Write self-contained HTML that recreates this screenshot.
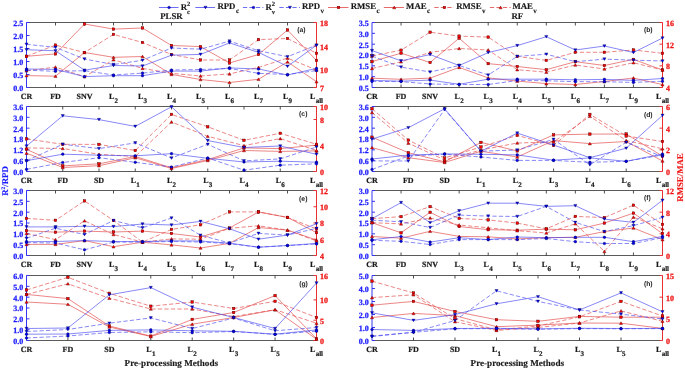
<!DOCTYPE html>
<html><head><meta charset="utf-8"><style>
html,body{margin:0;padding:0;background:#fff;}
svg{display:block;will-change:transform;}
text{font-family:"Liberation Serif", serif;font-weight:bold;text-rendering:geometricPrecision;}
.tl{font-size:8px;stroke-width:0.25px;}
.xl{font-size:8px;fill:#1a1a1a;stroke:#1a1a1a;stroke-width:0.2px;}
.tag{font-size:6.8px;fill:#222;font-family:"Liberation Sans",sans-serif;}
.lg{font-size:8.8px;fill:#1a1a1a;stroke:#1a1a1a;stroke-width:0.15px;}
.ttl{font-size:8.8px;fill:#1a1a1a;stroke:#1a1a1a;stroke-width:0.15px;}
.at{font-size:8.8px;fill:#1a1a1a;stroke:#1a1a1a;stroke-width:0.15px;}
.ppm{font-size:9.1px;}
</style></head><body>
<svg width="685" height="369" viewBox="0 0 685 369">
<line x1="26.5" y1="22.5" x2="316.5" y2="22.5" stroke="#5a5a5a" stroke-width="1.1"/>
<line x1="26.5" y1="87.5" x2="316.5" y2="87.5" stroke="#5a5a5a" stroke-width="1.1"/>
<line x1="55.50" y1="87.5" x2="55.50" y2="84.5" stroke="#3c3c3c" stroke-width="0.9"/>
<line x1="55.50" y1="22.5" x2="55.50" y2="25.5" stroke="#3c3c3c" stroke-width="0.9"/>
<line x1="84.50" y1="87.5" x2="84.50" y2="84.5" stroke="#3c3c3c" stroke-width="0.9"/>
<line x1="84.50" y1="22.5" x2="84.50" y2="25.5" stroke="#3c3c3c" stroke-width="0.9"/>
<line x1="113.50" y1="87.5" x2="113.50" y2="84.5" stroke="#3c3c3c" stroke-width="0.9"/>
<line x1="113.50" y1="22.5" x2="113.50" y2="25.5" stroke="#3c3c3c" stroke-width="0.9"/>
<line x1="142.50" y1="87.5" x2="142.50" y2="84.5" stroke="#3c3c3c" stroke-width="0.9"/>
<line x1="142.50" y1="22.5" x2="142.50" y2="25.5" stroke="#3c3c3c" stroke-width="0.9"/>
<line x1="171.50" y1="87.5" x2="171.50" y2="84.5" stroke="#3c3c3c" stroke-width="0.9"/>
<line x1="171.50" y1="22.5" x2="171.50" y2="25.5" stroke="#3c3c3c" stroke-width="0.9"/>
<line x1="200.50" y1="87.5" x2="200.50" y2="84.5" stroke="#3c3c3c" stroke-width="0.9"/>
<line x1="200.50" y1="22.5" x2="200.50" y2="25.5" stroke="#3c3c3c" stroke-width="0.9"/>
<line x1="229.50" y1="87.5" x2="229.50" y2="84.5" stroke="#3c3c3c" stroke-width="0.9"/>
<line x1="229.50" y1="22.5" x2="229.50" y2="25.5" stroke="#3c3c3c" stroke-width="0.9"/>
<line x1="258.50" y1="87.5" x2="258.50" y2="84.5" stroke="#3c3c3c" stroke-width="0.9"/>
<line x1="258.50" y1="22.5" x2="258.50" y2="25.5" stroke="#3c3c3c" stroke-width="0.9"/>
<line x1="287.50" y1="87.5" x2="287.50" y2="84.5" stroke="#3c3c3c" stroke-width="0.9"/>
<line x1="287.50" y1="22.5" x2="287.50" y2="25.5" stroke="#3c3c3c" stroke-width="0.9"/>
<line x1="26.5" y1="22.5" x2="26.5" y2="87.5" stroke="#3535f0" stroke-width="1"/>
<line x1="26.5" y1="87.50" x2="29.5" y2="87.50" stroke="#3535f0" stroke-width="1"/>
<text x="23.3" y="90.90" text-anchor="end" class="tl" fill="#1a1aff" stroke="#1a1aff">0.0</text>
<line x1="26.5" y1="74.50" x2="29.5" y2="74.50" stroke="#3535f0" stroke-width="1"/>
<text x="23.3" y="77.90" text-anchor="end" class="tl" fill="#1a1aff" stroke="#1a1aff">0.5</text>
<line x1="26.5" y1="61.50" x2="29.5" y2="61.50" stroke="#3535f0" stroke-width="1"/>
<text x="23.3" y="64.90" text-anchor="end" class="tl" fill="#1a1aff" stroke="#1a1aff">1.0</text>
<line x1="26.5" y1="48.50" x2="29.5" y2="48.50" stroke="#3535f0" stroke-width="1"/>
<text x="23.3" y="51.90" text-anchor="end" class="tl" fill="#1a1aff" stroke="#1a1aff">1.5</text>
<line x1="26.5" y1="35.50" x2="29.5" y2="35.50" stroke="#3535f0" stroke-width="1"/>
<text x="23.3" y="38.90" text-anchor="end" class="tl" fill="#1a1aff" stroke="#1a1aff">2.0</text>
<line x1="26.5" y1="22.50" x2="29.5" y2="22.50" stroke="#3535f0" stroke-width="1"/>
<text x="23.3" y="25.90" text-anchor="end" class="tl" fill="#1a1aff" stroke="#1a1aff">2.5</text>
<line x1="316.5" y1="22.5" x2="316.5" y2="87.5" stroke="#e83030" stroke-width="1"/>
<line x1="316.5" y1="87.50" x2="313.5" y2="87.50" stroke="#e83030" stroke-width="1"/>
<text x="320.1" y="90.90" class="tl" fill="#ee1111" stroke="#ee1111">7</text>
<line x1="316.5" y1="69.77" x2="313.5" y2="69.77" stroke="#e83030" stroke-width="1"/>
<text x="320.1" y="73.17" class="tl" fill="#ee1111" stroke="#ee1111">10</text>
<line x1="316.5" y1="46.14" x2="313.5" y2="46.14" stroke="#e83030" stroke-width="1"/>
<text x="320.1" y="49.54" class="tl" fill="#ee1111" stroke="#ee1111">14</text>
<line x1="316.5" y1="22.50" x2="313.5" y2="22.50" stroke="#e83030" stroke-width="1"/>
<text x="320.1" y="25.90" class="tl" fill="#ee1111" stroke="#ee1111">18</text>
<text x="26.50" y="99.30" text-anchor="middle" class="xl">CR</text>
<text x="55.50" y="99.30" text-anchor="middle" class="xl">FD</text>
<text x="84.50" y="99.30" text-anchor="middle" class="xl">SNV</text>
<text x="113.50" y="99.30" text-anchor="middle" class="xl">L<tspan font-size="7" dx="0.4" dy="3.2">2</tspan></text>
<text x="142.50" y="99.30" text-anchor="middle" class="xl">L<tspan font-size="7" dx="0.4" dy="3.2">3</tspan></text>
<text x="171.50" y="99.30" text-anchor="middle" class="xl">L<tspan font-size="7" dx="0.4" dy="3.2">4</tspan></text>
<text x="200.50" y="99.30" text-anchor="middle" class="xl">L<tspan font-size="7" dx="0.4" dy="3.2">5</tspan></text>
<text x="229.50" y="99.30" text-anchor="middle" class="xl">L<tspan font-size="7" dx="0.4" dy="3.2">6</tspan></text>
<text x="258.50" y="99.30" text-anchor="middle" class="xl">L<tspan font-size="7" dx="0.4" dy="3.2">7</tspan></text>
<text x="287.50" y="99.30" text-anchor="middle" class="xl">L<tspan font-size="7" dx="0.4" dy="3.2">9</tspan></text>
<text x="316.50" y="99.30" text-anchor="middle" class="xl">L<tspan font-size="7" dx="0.4" dy="3.2">all</tspan></text>
<text x="301.40" y="32.30" text-anchor="middle" class="tag">(a)</text>
<polyline points="26.50,56.30 55.50,53.90 84.50,24.00 113.50,29.10 142.50,28.00 171.50,45.50 200.50,46.60 229.50,63.00 258.50,54.50 287.50,30.00 316.50,60.50" fill="none" stroke="#e03a3a" stroke-width="0.62"/>
<polyline points="26.50,75.60 55.50,76.20 84.50,52.50 113.50,57.30 142.50,56.50 171.50,74.40 200.50,79.50 229.50,82.50 258.50,79.30 287.50,61.90 316.50,81.70" fill="none" stroke="#e03a3a" stroke-width="0.62"/>
<polyline points="26.50,56.30 55.50,45.10 84.50,52.50 113.50,34.40 142.50,42.50 171.50,54.50 200.50,60.00 229.50,60.00 258.50,39.60 287.50,38.50 316.50,53.30" fill="none" stroke="#e03a3a" stroke-width="0.62" stroke-dasharray="4.3,2.2"/>
<polyline points="26.50,70.80 55.50,67.10 84.50,76.70 113.50,59.80 142.50,68.40 171.50,73.30 200.50,76.00 229.50,73.90 258.50,67.40 287.50,58.10 316.50,70.00" fill="none" stroke="#e03a3a" stroke-width="0.62" stroke-dasharray="4.3,2.2"/>
<polyline points="26.50,69.00 55.50,69.40 84.50,76.60 113.50,75.70 142.50,75.70 171.50,71.10 200.50,71.10 229.50,67.90 258.50,69.00 287.50,75.00 316.50,68.40" fill="none" stroke="#3d3df2" stroke-width="0.62"/>
<polyline points="26.50,49.70 55.50,50.80 84.50,70.20 113.50,65.50 142.50,66.00 171.50,55.20 200.50,54.40 229.50,42.90 258.50,52.40 287.50,66.30 316.50,45.20" fill="none" stroke="#3d3df2" stroke-width="0.62"/>
<polyline points="26.50,70.20 55.50,71.30 84.50,70.70 113.50,75.00 142.50,73.10 171.50,70.00 200.50,69.50 229.50,68.50 258.50,73.30 287.50,74.50 316.50,70.60" fill="none" stroke="#3d3df2" stroke-width="0.62" stroke-dasharray="4.3,2.2"/>
<polyline points="26.50,44.30 55.50,47.40 84.50,59.00 113.50,64.50 142.50,60.30 171.50,48.00 200.50,49.20 229.50,41.10 258.50,50.70 287.50,56.70 316.50,45.20" fill="none" stroke="#3d3df2" stroke-width="0.62" stroke-dasharray="4.3,2.2"/>
<rect x="25.25" y="55.05" width="2.5" height="2.5" fill="#ff0000" stroke="#500000" stroke-width="0.45"/>
<rect x="54.25" y="52.65" width="2.5" height="2.5" fill="#ff0000" stroke="#500000" stroke-width="0.45"/>
<rect x="83.25" y="22.75" width="2.5" height="2.5" fill="#ff0000" stroke="#500000" stroke-width="0.45"/>
<rect x="112.25" y="27.85" width="2.5" height="2.5" fill="#ff0000" stroke="#500000" stroke-width="0.45"/>
<rect x="141.25" y="26.75" width="2.5" height="2.5" fill="#ff0000" stroke="#500000" stroke-width="0.45"/>
<rect x="170.25" y="44.25" width="2.5" height="2.5" fill="#ff0000" stroke="#500000" stroke-width="0.45"/>
<rect x="199.25" y="45.35" width="2.5" height="2.5" fill="#ff0000" stroke="#500000" stroke-width="0.45"/>
<rect x="228.25" y="61.75" width="2.5" height="2.5" fill="#ff0000" stroke="#500000" stroke-width="0.45"/>
<rect x="257.25" y="53.25" width="2.5" height="2.5" fill="#ff0000" stroke="#500000" stroke-width="0.45"/>
<rect x="286.25" y="28.75" width="2.5" height="2.5" fill="#ff0000" stroke="#500000" stroke-width="0.45"/>
<rect x="315.25" y="59.25" width="2.5" height="2.5" fill="#ff0000" stroke="#500000" stroke-width="0.45"/>
<path d="M24.90,76.90h3.2l-1.6,-2.7z" fill="#ff0000" stroke="#500000" stroke-width="0.4"/>
<path d="M53.90,77.50h3.2l-1.6,-2.7z" fill="#ff0000" stroke="#500000" stroke-width="0.4"/>
<path d="M82.90,53.80h3.2l-1.6,-2.7z" fill="#ff0000" stroke="#500000" stroke-width="0.4"/>
<path d="M111.90,58.60h3.2l-1.6,-2.7z" fill="#ff0000" stroke="#500000" stroke-width="0.4"/>
<path d="M140.90,57.80h3.2l-1.6,-2.7z" fill="#ff0000" stroke="#500000" stroke-width="0.4"/>
<path d="M169.90,75.70h3.2l-1.6,-2.7z" fill="#ff0000" stroke="#500000" stroke-width="0.4"/>
<path d="M198.90,80.80h3.2l-1.6,-2.7z" fill="#ff0000" stroke="#500000" stroke-width="0.4"/>
<path d="M227.90,83.80h3.2l-1.6,-2.7z" fill="#ff0000" stroke="#500000" stroke-width="0.4"/>
<path d="M256.90,80.60h3.2l-1.6,-2.7z" fill="#ff0000" stroke="#500000" stroke-width="0.4"/>
<path d="M285.90,63.20h3.2l-1.6,-2.7z" fill="#ff0000" stroke="#500000" stroke-width="0.4"/>
<path d="M314.90,83.00h3.2l-1.6,-2.7z" fill="#ff0000" stroke="#500000" stroke-width="0.4"/>
<rect x="25.25" y="55.05" width="2.5" height="2.5" fill="#ff0000" stroke="#500000" stroke-width="0.45"/>
<rect x="54.25" y="43.85" width="2.5" height="2.5" fill="#ff0000" stroke="#500000" stroke-width="0.45"/>
<rect x="83.25" y="51.25" width="2.5" height="2.5" fill="#ff0000" stroke="#500000" stroke-width="0.45"/>
<rect x="112.25" y="33.15" width="2.5" height="2.5" fill="#ff0000" stroke="#500000" stroke-width="0.45"/>
<rect x="141.25" y="41.25" width="2.5" height="2.5" fill="#ff0000" stroke="#500000" stroke-width="0.45"/>
<rect x="170.25" y="53.25" width="2.5" height="2.5" fill="#ff0000" stroke="#500000" stroke-width="0.45"/>
<rect x="199.25" y="58.75" width="2.5" height="2.5" fill="#ff0000" stroke="#500000" stroke-width="0.45"/>
<rect x="228.25" y="58.75" width="2.5" height="2.5" fill="#ff0000" stroke="#500000" stroke-width="0.45"/>
<rect x="257.25" y="38.35" width="2.5" height="2.5" fill="#ff0000" stroke="#500000" stroke-width="0.45"/>
<rect x="286.25" y="37.25" width="2.5" height="2.5" fill="#ff0000" stroke="#500000" stroke-width="0.45"/>
<rect x="315.25" y="52.05" width="2.5" height="2.5" fill="#ff0000" stroke="#500000" stroke-width="0.45"/>
<path d="M24.90,72.10h3.2l-1.6,-2.7z" fill="#ff0000" stroke="#500000" stroke-width="0.4"/>
<path d="M53.90,68.40h3.2l-1.6,-2.7z" fill="#ff0000" stroke="#500000" stroke-width="0.4"/>
<path d="M82.90,78.00h3.2l-1.6,-2.7z" fill="#ff0000" stroke="#500000" stroke-width="0.4"/>
<path d="M111.90,61.10h3.2l-1.6,-2.7z" fill="#ff0000" stroke="#500000" stroke-width="0.4"/>
<path d="M140.90,69.70h3.2l-1.6,-2.7z" fill="#ff0000" stroke="#500000" stroke-width="0.4"/>
<path d="M169.90,74.60h3.2l-1.6,-2.7z" fill="#ff0000" stroke="#500000" stroke-width="0.4"/>
<path d="M198.90,77.30h3.2l-1.6,-2.7z" fill="#ff0000" stroke="#500000" stroke-width="0.4"/>
<path d="M227.90,75.20h3.2l-1.6,-2.7z" fill="#ff0000" stroke="#500000" stroke-width="0.4"/>
<path d="M256.90,68.70h3.2l-1.6,-2.7z" fill="#ff0000" stroke="#500000" stroke-width="0.4"/>
<path d="M285.90,59.40h3.2l-1.6,-2.7z" fill="#ff0000" stroke="#500000" stroke-width="0.4"/>
<path d="M314.90,71.30h3.2l-1.6,-2.7z" fill="#ff0000" stroke="#500000" stroke-width="0.4"/>
<circle cx="26.50" cy="69.00" r="1.35" fill="#0000ee" stroke="#000040" stroke-width="0.35"/>
<circle cx="55.50" cy="69.40" r="1.35" fill="#0000ee" stroke="#000040" stroke-width="0.35"/>
<circle cx="84.50" cy="76.60" r="1.35" fill="#0000ee" stroke="#000040" stroke-width="0.35"/>
<circle cx="113.50" cy="75.70" r="1.35" fill="#0000ee" stroke="#000040" stroke-width="0.35"/>
<circle cx="142.50" cy="75.70" r="1.35" fill="#0000ee" stroke="#000040" stroke-width="0.35"/>
<circle cx="171.50" cy="71.10" r="1.35" fill="#0000ee" stroke="#000040" stroke-width="0.35"/>
<circle cx="200.50" cy="71.10" r="1.35" fill="#0000ee" stroke="#000040" stroke-width="0.35"/>
<circle cx="229.50" cy="67.90" r="1.35" fill="#0000ee" stroke="#000040" stroke-width="0.35"/>
<circle cx="258.50" cy="69.00" r="1.35" fill="#0000ee" stroke="#000040" stroke-width="0.35"/>
<circle cx="287.50" cy="75.00" r="1.35" fill="#0000ee" stroke="#000040" stroke-width="0.35"/>
<circle cx="316.50" cy="68.40" r="1.35" fill="#0000ee" stroke="#000040" stroke-width="0.35"/>
<path d="M24.90,48.40h3.2l-1.6,2.7z" fill="#0000ee" stroke="#000040" stroke-width="0.35"/>
<path d="M53.90,49.50h3.2l-1.6,2.7z" fill="#0000ee" stroke="#000040" stroke-width="0.35"/>
<path d="M82.90,68.90h3.2l-1.6,2.7z" fill="#0000ee" stroke="#000040" stroke-width="0.35"/>
<path d="M111.90,64.20h3.2l-1.6,2.7z" fill="#0000ee" stroke="#000040" stroke-width="0.35"/>
<path d="M140.90,64.70h3.2l-1.6,2.7z" fill="#0000ee" stroke="#000040" stroke-width="0.35"/>
<path d="M169.90,53.90h3.2l-1.6,2.7z" fill="#0000ee" stroke="#000040" stroke-width="0.35"/>
<path d="M198.90,53.10h3.2l-1.6,2.7z" fill="#0000ee" stroke="#000040" stroke-width="0.35"/>
<path d="M227.90,41.60h3.2l-1.6,2.7z" fill="#0000ee" stroke="#000040" stroke-width="0.35"/>
<path d="M256.90,51.10h3.2l-1.6,2.7z" fill="#0000ee" stroke="#000040" stroke-width="0.35"/>
<path d="M285.90,65.00h3.2l-1.6,2.7z" fill="#0000ee" stroke="#000040" stroke-width="0.35"/>
<path d="M314.90,43.90h3.2l-1.6,2.7z" fill="#0000ee" stroke="#000040" stroke-width="0.35"/>
<circle cx="26.50" cy="70.20" r="1.35" fill="#0000ee" stroke="#000040" stroke-width="0.35"/>
<circle cx="55.50" cy="71.30" r="1.35" fill="#0000ee" stroke="#000040" stroke-width="0.35"/>
<circle cx="84.50" cy="70.70" r="1.35" fill="#0000ee" stroke="#000040" stroke-width="0.35"/>
<circle cx="113.50" cy="75.00" r="1.35" fill="#0000ee" stroke="#000040" stroke-width="0.35"/>
<circle cx="142.50" cy="73.10" r="1.35" fill="#0000ee" stroke="#000040" stroke-width="0.35"/>
<circle cx="171.50" cy="70.00" r="1.35" fill="#0000ee" stroke="#000040" stroke-width="0.35"/>
<circle cx="200.50" cy="69.50" r="1.35" fill="#0000ee" stroke="#000040" stroke-width="0.35"/>
<circle cx="229.50" cy="68.50" r="1.35" fill="#0000ee" stroke="#000040" stroke-width="0.35"/>
<circle cx="258.50" cy="73.30" r="1.35" fill="#0000ee" stroke="#000040" stroke-width="0.35"/>
<circle cx="287.50" cy="74.50" r="1.35" fill="#0000ee" stroke="#000040" stroke-width="0.35"/>
<circle cx="316.50" cy="70.60" r="1.35" fill="#0000ee" stroke="#000040" stroke-width="0.35"/>
<path d="M24.90,43.00h3.2l-1.6,2.7z" fill="#0000ee" stroke="#000040" stroke-width="0.35"/>
<path d="M53.90,46.10h3.2l-1.6,2.7z" fill="#0000ee" stroke="#000040" stroke-width="0.35"/>
<path d="M82.90,57.70h3.2l-1.6,2.7z" fill="#0000ee" stroke="#000040" stroke-width="0.35"/>
<path d="M111.90,63.20h3.2l-1.6,2.7z" fill="#0000ee" stroke="#000040" stroke-width="0.35"/>
<path d="M140.90,59.00h3.2l-1.6,2.7z" fill="#0000ee" stroke="#000040" stroke-width="0.35"/>
<path d="M169.90,46.70h3.2l-1.6,2.7z" fill="#0000ee" stroke="#000040" stroke-width="0.35"/>
<path d="M198.90,47.90h3.2l-1.6,2.7z" fill="#0000ee" stroke="#000040" stroke-width="0.35"/>
<path d="M227.90,39.80h3.2l-1.6,2.7z" fill="#0000ee" stroke="#000040" stroke-width="0.35"/>
<path d="M256.90,49.40h3.2l-1.6,2.7z" fill="#0000ee" stroke="#000040" stroke-width="0.35"/>
<path d="M285.90,55.40h3.2l-1.6,2.7z" fill="#0000ee" stroke="#000040" stroke-width="0.35"/>
<path d="M314.90,43.90h3.2l-1.6,2.7z" fill="#0000ee" stroke="#000040" stroke-width="0.35"/>
<line x1="372.0" y1="22.5" x2="662.5" y2="22.5" stroke="#5a5a5a" stroke-width="1.1"/>
<line x1="372.0" y1="87.5" x2="662.5" y2="87.5" stroke="#5a5a5a" stroke-width="1.1"/>
<line x1="401.05" y1="87.5" x2="401.05" y2="84.5" stroke="#3c3c3c" stroke-width="0.9"/>
<line x1="401.05" y1="22.5" x2="401.05" y2="25.5" stroke="#3c3c3c" stroke-width="0.9"/>
<line x1="430.10" y1="87.5" x2="430.10" y2="84.5" stroke="#3c3c3c" stroke-width="0.9"/>
<line x1="430.10" y1="22.5" x2="430.10" y2="25.5" stroke="#3c3c3c" stroke-width="0.9"/>
<line x1="459.15" y1="87.5" x2="459.15" y2="84.5" stroke="#3c3c3c" stroke-width="0.9"/>
<line x1="459.15" y1="22.5" x2="459.15" y2="25.5" stroke="#3c3c3c" stroke-width="0.9"/>
<line x1="488.20" y1="87.5" x2="488.20" y2="84.5" stroke="#3c3c3c" stroke-width="0.9"/>
<line x1="488.20" y1="22.5" x2="488.20" y2="25.5" stroke="#3c3c3c" stroke-width="0.9"/>
<line x1="517.25" y1="87.5" x2="517.25" y2="84.5" stroke="#3c3c3c" stroke-width="0.9"/>
<line x1="517.25" y1="22.5" x2="517.25" y2="25.5" stroke="#3c3c3c" stroke-width="0.9"/>
<line x1="546.30" y1="87.5" x2="546.30" y2="84.5" stroke="#3c3c3c" stroke-width="0.9"/>
<line x1="546.30" y1="22.5" x2="546.30" y2="25.5" stroke="#3c3c3c" stroke-width="0.9"/>
<line x1="575.35" y1="87.5" x2="575.35" y2="84.5" stroke="#3c3c3c" stroke-width="0.9"/>
<line x1="575.35" y1="22.5" x2="575.35" y2="25.5" stroke="#3c3c3c" stroke-width="0.9"/>
<line x1="604.40" y1="87.5" x2="604.40" y2="84.5" stroke="#3c3c3c" stroke-width="0.9"/>
<line x1="604.40" y1="22.5" x2="604.40" y2="25.5" stroke="#3c3c3c" stroke-width="0.9"/>
<line x1="633.45" y1="87.5" x2="633.45" y2="84.5" stroke="#3c3c3c" stroke-width="0.9"/>
<line x1="633.45" y1="22.5" x2="633.45" y2="25.5" stroke="#3c3c3c" stroke-width="0.9"/>
<line x1="372.0" y1="22.5" x2="372.0" y2="87.5" stroke="#3535f0" stroke-width="1"/>
<line x1="372.0" y1="87.50" x2="375.0" y2="87.50" stroke="#3535f0" stroke-width="1"/>
<text x="368.8" y="90.90" text-anchor="end" class="tl" fill="#1a1aff" stroke="#1a1aff">0.5</text>
<line x1="372.0" y1="76.67" x2="375.0" y2="76.67" stroke="#3535f0" stroke-width="1"/>
<text x="368.8" y="80.07" text-anchor="end" class="tl" fill="#1a1aff" stroke="#1a1aff">1.0</text>
<line x1="372.0" y1="65.83" x2="375.0" y2="65.83" stroke="#3535f0" stroke-width="1"/>
<text x="368.8" y="69.23" text-anchor="end" class="tl" fill="#1a1aff" stroke="#1a1aff">1.5</text>
<line x1="372.0" y1="55.00" x2="375.0" y2="55.00" stroke="#3535f0" stroke-width="1"/>
<text x="368.8" y="58.40" text-anchor="end" class="tl" fill="#1a1aff" stroke="#1a1aff">2.0</text>
<line x1="372.0" y1="44.17" x2="375.0" y2="44.17" stroke="#3535f0" stroke-width="1"/>
<text x="368.8" y="47.57" text-anchor="end" class="tl" fill="#1a1aff" stroke="#1a1aff">2.5</text>
<line x1="372.0" y1="33.33" x2="375.0" y2="33.33" stroke="#3535f0" stroke-width="1"/>
<text x="368.8" y="36.73" text-anchor="end" class="tl" fill="#1a1aff" stroke="#1a1aff">3.0</text>
<line x1="372.0" y1="22.50" x2="375.0" y2="22.50" stroke="#3535f0" stroke-width="1"/>
<text x="368.8" y="25.90" text-anchor="end" class="tl" fill="#1a1aff" stroke="#1a1aff">3.5</text>
<line x1="662.5" y1="22.5" x2="662.5" y2="87.5" stroke="#e83030" stroke-width="1"/>
<line x1="662.5" y1="87.50" x2="659.5" y2="87.50" stroke="#e83030" stroke-width="1"/>
<text x="666.1" y="90.90" class="tl" fill="#ee1111" stroke="#ee1111">4</text>
<line x1="662.5" y1="65.83" x2="659.5" y2="65.83" stroke="#e83030" stroke-width="1"/>
<text x="666.1" y="69.23" class="tl" fill="#ee1111" stroke="#ee1111">8</text>
<line x1="662.5" y1="44.17" x2="659.5" y2="44.17" stroke="#e83030" stroke-width="1"/>
<text x="666.1" y="47.57" class="tl" fill="#ee1111" stroke="#ee1111">12</text>
<line x1="662.5" y1="22.50" x2="659.5" y2="22.50" stroke="#e83030" stroke-width="1"/>
<text x="666.1" y="25.90" class="tl" fill="#ee1111" stroke="#ee1111">16</text>
<text x="372.00" y="99.30" text-anchor="middle" class="xl">CR</text>
<text x="401.05" y="99.30" text-anchor="middle" class="xl">FD</text>
<text x="430.10" y="99.30" text-anchor="middle" class="xl">SNV</text>
<text x="459.15" y="99.30" text-anchor="middle" class="xl">L<tspan font-size="7" dx="0.4" dy="3.2">2</tspan></text>
<text x="488.20" y="99.30" text-anchor="middle" class="xl">L<tspan font-size="7" dx="0.4" dy="3.2">3</tspan></text>
<text x="517.25" y="99.30" text-anchor="middle" class="xl">L<tspan font-size="7" dx="0.4" dy="3.2">4</tspan></text>
<text x="546.30" y="99.30" text-anchor="middle" class="xl">L<tspan font-size="7" dx="0.4" dy="3.2">5</tspan></text>
<text x="575.35" y="99.30" text-anchor="middle" class="xl">L<tspan font-size="7" dx="0.4" dy="3.2">6</tspan></text>
<text x="604.40" y="99.30" text-anchor="middle" class="xl">L<tspan font-size="7" dx="0.4" dy="3.2">7</tspan></text>
<text x="633.45" y="99.30" text-anchor="middle" class="xl">L<tspan font-size="7" dx="0.4" dy="3.2">9</tspan></text>
<text x="662.50" y="99.30" text-anchor="middle" class="xl">L<tspan font-size="7" dx="0.4" dy="3.2">all</tspan></text>
<text x="648.25" y="32.40" text-anchor="middle" class="tag">(b)</text>
<polyline points="372.00,61.60 401.05,53.20 430.10,62.50 459.15,38.20 488.20,63.60 517.25,66.50 546.30,69.70 575.35,61.70 604.40,65.50 633.45,59.40 662.50,70.00" fill="none" stroke="#e03a3a" stroke-width="0.62"/>
<polyline points="372.00,78.20 401.05,79.30 430.10,78.10 459.15,67.40 488.20,77.90 517.25,81.10 546.30,83.60 575.35,84.50 604.40,81.50 633.45,78.00 662.50,84.60" fill="none" stroke="#e03a3a" stroke-width="0.62"/>
<polyline points="372.00,56.00 401.05,50.20 430.10,32.20 459.15,36.10 488.20,37.10 517.25,56.40 546.30,60.40 575.35,52.30 604.40,52.30 633.45,50.00 662.50,53.30" fill="none" stroke="#e03a3a" stroke-width="0.62" stroke-dasharray="4.3,2.2"/>
<polyline points="372.00,68.50 401.05,61.80 430.10,52.40 459.15,48.50 488.20,50.00 517.25,69.70 546.30,72.20 575.35,65.00 604.40,69.00 633.45,62.70 662.50,70.00" fill="none" stroke="#e03a3a" stroke-width="0.62" stroke-dasharray="4.3,2.2"/>
<polyline points="372.00,80.40 401.05,81.20 430.10,80.10 459.15,84.30 488.20,79.20 517.25,79.20 546.30,79.20 575.35,79.80 604.40,79.40 633.45,80.40 662.50,78.50" fill="none" stroke="#3d3df2" stroke-width="0.62"/>
<polyline points="372.00,50.60 401.05,60.80 430.10,54.60 459.15,65.50 488.20,52.60 517.25,45.60 546.30,36.70 575.35,50.00 604.40,46.00 633.45,52.50 662.50,38.00" fill="none" stroke="#3d3df2" stroke-width="0.62"/>
<polyline points="372.00,81.40 401.05,81.60 430.10,84.00 459.15,84.50 488.20,84.50 517.25,80.50 546.30,80.70 575.35,81.70 604.40,81.70 633.45,82.40 662.50,81.30" fill="none" stroke="#3d3df2" stroke-width="0.62" stroke-dasharray="4.3,2.2"/>
<polyline points="372.00,56.00 401.05,67.10 430.10,72.00 459.15,65.50 488.20,75.00 517.25,56.40 546.30,54.20 575.35,61.70 604.40,59.10 633.45,60.20 662.50,61.00" fill="none" stroke="#3d3df2" stroke-width="0.62" stroke-dasharray="4.3,2.2"/>
<rect x="370.75" y="60.35" width="2.5" height="2.5" fill="#ff0000" stroke="#500000" stroke-width="0.45"/>
<rect x="399.80" y="51.95" width="2.5" height="2.5" fill="#ff0000" stroke="#500000" stroke-width="0.45"/>
<rect x="428.85" y="61.25" width="2.5" height="2.5" fill="#ff0000" stroke="#500000" stroke-width="0.45"/>
<rect x="457.90" y="36.95" width="2.5" height="2.5" fill="#ff0000" stroke="#500000" stroke-width="0.45"/>
<rect x="486.95" y="62.35" width="2.5" height="2.5" fill="#ff0000" stroke="#500000" stroke-width="0.45"/>
<rect x="516.00" y="65.25" width="2.5" height="2.5" fill="#ff0000" stroke="#500000" stroke-width="0.45"/>
<rect x="545.05" y="68.45" width="2.5" height="2.5" fill="#ff0000" stroke="#500000" stroke-width="0.45"/>
<rect x="574.10" y="60.45" width="2.5" height="2.5" fill="#ff0000" stroke="#500000" stroke-width="0.45"/>
<rect x="603.15" y="64.25" width="2.5" height="2.5" fill="#ff0000" stroke="#500000" stroke-width="0.45"/>
<rect x="632.20" y="58.15" width="2.5" height="2.5" fill="#ff0000" stroke="#500000" stroke-width="0.45"/>
<rect x="661.25" y="68.75" width="2.5" height="2.5" fill="#ff0000" stroke="#500000" stroke-width="0.45"/>
<path d="M370.40,79.50h3.2l-1.6,-2.7z" fill="#ff0000" stroke="#500000" stroke-width="0.4"/>
<path d="M399.45,80.60h3.2l-1.6,-2.7z" fill="#ff0000" stroke="#500000" stroke-width="0.4"/>
<path d="M428.50,79.40h3.2l-1.6,-2.7z" fill="#ff0000" stroke="#500000" stroke-width="0.4"/>
<path d="M457.55,68.70h3.2l-1.6,-2.7z" fill="#ff0000" stroke="#500000" stroke-width="0.4"/>
<path d="M486.60,79.20h3.2l-1.6,-2.7z" fill="#ff0000" stroke="#500000" stroke-width="0.4"/>
<path d="M515.65,82.40h3.2l-1.6,-2.7z" fill="#ff0000" stroke="#500000" stroke-width="0.4"/>
<path d="M544.70,84.90h3.2l-1.6,-2.7z" fill="#ff0000" stroke="#500000" stroke-width="0.4"/>
<path d="M573.75,85.80h3.2l-1.6,-2.7z" fill="#ff0000" stroke="#500000" stroke-width="0.4"/>
<path d="M602.80,82.80h3.2l-1.6,-2.7z" fill="#ff0000" stroke="#500000" stroke-width="0.4"/>
<path d="M631.85,79.30h3.2l-1.6,-2.7z" fill="#ff0000" stroke="#500000" stroke-width="0.4"/>
<path d="M660.90,85.90h3.2l-1.6,-2.7z" fill="#ff0000" stroke="#500000" stroke-width="0.4"/>
<rect x="370.75" y="54.75" width="2.5" height="2.5" fill="#ff0000" stroke="#500000" stroke-width="0.45"/>
<rect x="399.80" y="48.95" width="2.5" height="2.5" fill="#ff0000" stroke="#500000" stroke-width="0.45"/>
<rect x="428.85" y="30.95" width="2.5" height="2.5" fill="#ff0000" stroke="#500000" stroke-width="0.45"/>
<rect x="457.90" y="34.85" width="2.5" height="2.5" fill="#ff0000" stroke="#500000" stroke-width="0.45"/>
<rect x="486.95" y="35.85" width="2.5" height="2.5" fill="#ff0000" stroke="#500000" stroke-width="0.45"/>
<rect x="516.00" y="55.15" width="2.5" height="2.5" fill="#ff0000" stroke="#500000" stroke-width="0.45"/>
<rect x="545.05" y="59.15" width="2.5" height="2.5" fill="#ff0000" stroke="#500000" stroke-width="0.45"/>
<rect x="574.10" y="51.05" width="2.5" height="2.5" fill="#ff0000" stroke="#500000" stroke-width="0.45"/>
<rect x="603.15" y="51.05" width="2.5" height="2.5" fill="#ff0000" stroke="#500000" stroke-width="0.45"/>
<rect x="632.20" y="48.75" width="2.5" height="2.5" fill="#ff0000" stroke="#500000" stroke-width="0.45"/>
<rect x="661.25" y="52.05" width="2.5" height="2.5" fill="#ff0000" stroke="#500000" stroke-width="0.45"/>
<path d="M370.40,69.80h3.2l-1.6,-2.7z" fill="#ff0000" stroke="#500000" stroke-width="0.4"/>
<path d="M399.45,63.10h3.2l-1.6,-2.7z" fill="#ff0000" stroke="#500000" stroke-width="0.4"/>
<path d="M428.50,53.70h3.2l-1.6,-2.7z" fill="#ff0000" stroke="#500000" stroke-width="0.4"/>
<path d="M457.55,49.80h3.2l-1.6,-2.7z" fill="#ff0000" stroke="#500000" stroke-width="0.4"/>
<path d="M486.60,51.30h3.2l-1.6,-2.7z" fill="#ff0000" stroke="#500000" stroke-width="0.4"/>
<path d="M515.65,71.00h3.2l-1.6,-2.7z" fill="#ff0000" stroke="#500000" stroke-width="0.4"/>
<path d="M544.70,73.50h3.2l-1.6,-2.7z" fill="#ff0000" stroke="#500000" stroke-width="0.4"/>
<path d="M573.75,66.30h3.2l-1.6,-2.7z" fill="#ff0000" stroke="#500000" stroke-width="0.4"/>
<path d="M602.80,70.30h3.2l-1.6,-2.7z" fill="#ff0000" stroke="#500000" stroke-width="0.4"/>
<path d="M631.85,64.00h3.2l-1.6,-2.7z" fill="#ff0000" stroke="#500000" stroke-width="0.4"/>
<path d="M660.90,71.30h3.2l-1.6,-2.7z" fill="#ff0000" stroke="#500000" stroke-width="0.4"/>
<circle cx="372.00" cy="80.40" r="1.35" fill="#0000ee" stroke="#000040" stroke-width="0.35"/>
<circle cx="401.05" cy="81.20" r="1.35" fill="#0000ee" stroke="#000040" stroke-width="0.35"/>
<circle cx="430.10" cy="80.10" r="1.35" fill="#0000ee" stroke="#000040" stroke-width="0.35"/>
<circle cx="459.15" cy="84.30" r="1.35" fill="#0000ee" stroke="#000040" stroke-width="0.35"/>
<circle cx="488.20" cy="79.20" r="1.35" fill="#0000ee" stroke="#000040" stroke-width="0.35"/>
<circle cx="517.25" cy="79.20" r="1.35" fill="#0000ee" stroke="#000040" stroke-width="0.35"/>
<circle cx="546.30" cy="79.20" r="1.35" fill="#0000ee" stroke="#000040" stroke-width="0.35"/>
<circle cx="575.35" cy="79.80" r="1.35" fill="#0000ee" stroke="#000040" stroke-width="0.35"/>
<circle cx="604.40" cy="79.40" r="1.35" fill="#0000ee" stroke="#000040" stroke-width="0.35"/>
<circle cx="633.45" cy="80.40" r="1.35" fill="#0000ee" stroke="#000040" stroke-width="0.35"/>
<circle cx="662.50" cy="78.50" r="1.35" fill="#0000ee" stroke="#000040" stroke-width="0.35"/>
<path d="M370.40,49.30h3.2l-1.6,2.7z" fill="#0000ee" stroke="#000040" stroke-width="0.35"/>
<path d="M399.45,59.50h3.2l-1.6,2.7z" fill="#0000ee" stroke="#000040" stroke-width="0.35"/>
<path d="M428.50,53.30h3.2l-1.6,2.7z" fill="#0000ee" stroke="#000040" stroke-width="0.35"/>
<path d="M457.55,64.20h3.2l-1.6,2.7z" fill="#0000ee" stroke="#000040" stroke-width="0.35"/>
<path d="M486.60,51.30h3.2l-1.6,2.7z" fill="#0000ee" stroke="#000040" stroke-width="0.35"/>
<path d="M515.65,44.30h3.2l-1.6,2.7z" fill="#0000ee" stroke="#000040" stroke-width="0.35"/>
<path d="M544.70,35.40h3.2l-1.6,2.7z" fill="#0000ee" stroke="#000040" stroke-width="0.35"/>
<path d="M573.75,48.70h3.2l-1.6,2.7z" fill="#0000ee" stroke="#000040" stroke-width="0.35"/>
<path d="M602.80,44.70h3.2l-1.6,2.7z" fill="#0000ee" stroke="#000040" stroke-width="0.35"/>
<path d="M631.85,51.20h3.2l-1.6,2.7z" fill="#0000ee" stroke="#000040" stroke-width="0.35"/>
<path d="M660.90,36.70h3.2l-1.6,2.7z" fill="#0000ee" stroke="#000040" stroke-width="0.35"/>
<circle cx="372.00" cy="81.40" r="1.35" fill="#0000ee" stroke="#000040" stroke-width="0.35"/>
<circle cx="401.05" cy="81.60" r="1.35" fill="#0000ee" stroke="#000040" stroke-width="0.35"/>
<circle cx="430.10" cy="84.00" r="1.35" fill="#0000ee" stroke="#000040" stroke-width="0.35"/>
<circle cx="459.15" cy="84.50" r="1.35" fill="#0000ee" stroke="#000040" stroke-width="0.35"/>
<circle cx="488.20" cy="84.50" r="1.35" fill="#0000ee" stroke="#000040" stroke-width="0.35"/>
<circle cx="517.25" cy="80.50" r="1.35" fill="#0000ee" stroke="#000040" stroke-width="0.35"/>
<circle cx="546.30" cy="80.70" r="1.35" fill="#0000ee" stroke="#000040" stroke-width="0.35"/>
<circle cx="575.35" cy="81.70" r="1.35" fill="#0000ee" stroke="#000040" stroke-width="0.35"/>
<circle cx="604.40" cy="81.70" r="1.35" fill="#0000ee" stroke="#000040" stroke-width="0.35"/>
<circle cx="633.45" cy="82.40" r="1.35" fill="#0000ee" stroke="#000040" stroke-width="0.35"/>
<circle cx="662.50" cy="81.30" r="1.35" fill="#0000ee" stroke="#000040" stroke-width="0.35"/>
<path d="M370.40,54.70h3.2l-1.6,2.7z" fill="#0000ee" stroke="#000040" stroke-width="0.35"/>
<path d="M399.45,65.80h3.2l-1.6,2.7z" fill="#0000ee" stroke="#000040" stroke-width="0.35"/>
<path d="M428.50,70.70h3.2l-1.6,2.7z" fill="#0000ee" stroke="#000040" stroke-width="0.35"/>
<path d="M457.55,64.20h3.2l-1.6,2.7z" fill="#0000ee" stroke="#000040" stroke-width="0.35"/>
<path d="M486.60,73.70h3.2l-1.6,2.7z" fill="#0000ee" stroke="#000040" stroke-width="0.35"/>
<path d="M515.65,55.10h3.2l-1.6,2.7z" fill="#0000ee" stroke="#000040" stroke-width="0.35"/>
<path d="M544.70,52.90h3.2l-1.6,2.7z" fill="#0000ee" stroke="#000040" stroke-width="0.35"/>
<path d="M573.75,60.40h3.2l-1.6,2.7z" fill="#0000ee" stroke="#000040" stroke-width="0.35"/>
<path d="M602.80,57.80h3.2l-1.6,2.7z" fill="#0000ee" stroke="#000040" stroke-width="0.35"/>
<path d="M631.85,58.90h3.2l-1.6,2.7z" fill="#0000ee" stroke="#000040" stroke-width="0.35"/>
<path d="M660.90,59.70h3.2l-1.6,2.7z" fill="#0000ee" stroke="#000040" stroke-width="0.35"/>
<line x1="26.5" y1="106.5" x2="316.5" y2="106.5" stroke="#5a5a5a" stroke-width="1.1"/>
<line x1="26.5" y1="171.5" x2="316.5" y2="171.5" stroke="#5a5a5a" stroke-width="1.1"/>
<line x1="62.75" y1="171.5" x2="62.75" y2="168.5" stroke="#3c3c3c" stroke-width="0.9"/>
<line x1="62.75" y1="106.5" x2="62.75" y2="109.5" stroke="#3c3c3c" stroke-width="0.9"/>
<line x1="99.00" y1="171.5" x2="99.00" y2="168.5" stroke="#3c3c3c" stroke-width="0.9"/>
<line x1="99.00" y1="106.5" x2="99.00" y2="109.5" stroke="#3c3c3c" stroke-width="0.9"/>
<line x1="135.25" y1="171.5" x2="135.25" y2="168.5" stroke="#3c3c3c" stroke-width="0.9"/>
<line x1="135.25" y1="106.5" x2="135.25" y2="109.5" stroke="#3c3c3c" stroke-width="0.9"/>
<line x1="171.50" y1="171.5" x2="171.50" y2="168.5" stroke="#3c3c3c" stroke-width="0.9"/>
<line x1="171.50" y1="106.5" x2="171.50" y2="109.5" stroke="#3c3c3c" stroke-width="0.9"/>
<line x1="207.75" y1="171.5" x2="207.75" y2="168.5" stroke="#3c3c3c" stroke-width="0.9"/>
<line x1="207.75" y1="106.5" x2="207.75" y2="109.5" stroke="#3c3c3c" stroke-width="0.9"/>
<line x1="244.00" y1="171.5" x2="244.00" y2="168.5" stroke="#3c3c3c" stroke-width="0.9"/>
<line x1="244.00" y1="106.5" x2="244.00" y2="109.5" stroke="#3c3c3c" stroke-width="0.9"/>
<line x1="280.25" y1="171.5" x2="280.25" y2="168.5" stroke="#3c3c3c" stroke-width="0.9"/>
<line x1="280.25" y1="106.5" x2="280.25" y2="109.5" stroke="#3c3c3c" stroke-width="0.9"/>
<line x1="26.5" y1="106.5" x2="26.5" y2="171.5" stroke="#3535f0" stroke-width="1"/>
<line x1="26.5" y1="171.50" x2="29.5" y2="171.50" stroke="#3535f0" stroke-width="1"/>
<text x="23.3" y="174.90" text-anchor="end" class="tl" fill="#1a1aff" stroke="#1a1aff">0.0</text>
<line x1="26.5" y1="160.67" x2="29.5" y2="160.67" stroke="#3535f0" stroke-width="1"/>
<text x="23.3" y="164.07" text-anchor="end" class="tl" fill="#1a1aff" stroke="#1a1aff">0.6</text>
<line x1="26.5" y1="149.83" x2="29.5" y2="149.83" stroke="#3535f0" stroke-width="1"/>
<text x="23.3" y="153.23" text-anchor="end" class="tl" fill="#1a1aff" stroke="#1a1aff">1.2</text>
<line x1="26.5" y1="139.00" x2="29.5" y2="139.00" stroke="#3535f0" stroke-width="1"/>
<text x="23.3" y="142.40" text-anchor="end" class="tl" fill="#1a1aff" stroke="#1a1aff">1.8</text>
<line x1="26.5" y1="128.17" x2="29.5" y2="128.17" stroke="#3535f0" stroke-width="1"/>
<text x="23.3" y="131.57" text-anchor="end" class="tl" fill="#1a1aff" stroke="#1a1aff">2.4</text>
<line x1="26.5" y1="117.33" x2="29.5" y2="117.33" stroke="#3535f0" stroke-width="1"/>
<text x="23.3" y="120.73" text-anchor="end" class="tl" fill="#1a1aff" stroke="#1a1aff">3.0</text>
<line x1="26.5" y1="106.50" x2="29.5" y2="106.50" stroke="#3535f0" stroke-width="1"/>
<text x="23.3" y="109.90" text-anchor="end" class="tl" fill="#1a1aff" stroke="#1a1aff">3.6</text>
<line x1="316.5" y1="106.5" x2="316.5" y2="171.5" stroke="#e83030" stroke-width="1"/>
<line x1="316.5" y1="171.50" x2="313.5" y2="171.50" stroke="#e83030" stroke-width="1"/>
<text x="320.1" y="174.90" class="tl" fill="#ee1111" stroke="#ee1111">0</text>
<line x1="316.5" y1="145.50" x2="313.5" y2="145.50" stroke="#e83030" stroke-width="1"/>
<text x="320.1" y="148.90" class="tl" fill="#ee1111" stroke="#ee1111">4</text>
<line x1="316.5" y1="119.50" x2="313.5" y2="119.50" stroke="#e83030" stroke-width="1"/>
<text x="320.1" y="122.90" class="tl" fill="#ee1111" stroke="#ee1111">8</text>
<line x1="316.5" y1="106.50" x2="313.5" y2="106.50" stroke="#e83030" stroke-width="1"/>
<text x="320.1" y="109.90" class="tl" fill="#ee1111" stroke="#ee1111">10</text>
<text x="26.50" y="183.30" text-anchor="middle" class="xl">CR</text>
<text x="62.75" y="183.30" text-anchor="middle" class="xl">FD</text>
<text x="99.00" y="183.30" text-anchor="middle" class="xl">SD</text>
<text x="135.25" y="183.30" text-anchor="middle" class="xl">L<tspan font-size="7" dx="0.4" dy="3.2">1</tspan></text>
<text x="171.50" y="183.30" text-anchor="middle" class="xl">L<tspan font-size="7" dx="0.4" dy="3.2">2</tspan></text>
<text x="207.75" y="183.30" text-anchor="middle" class="xl">L<tspan font-size="7" dx="0.4" dy="3.2">3</tspan></text>
<text x="244.00" y="183.30" text-anchor="middle" class="xl">L<tspan font-size="7" dx="0.4" dy="3.2">4</tspan></text>
<text x="280.25" y="183.30" text-anchor="middle" class="xl">L<tspan font-size="7" dx="0.4" dy="3.2">6</tspan></text>
<text x="316.50" y="183.30" text-anchor="middle" class="xl">L<tspan font-size="7" dx="0.4" dy="3.2">all</tspan></text>
<text x="303.25" y="116.30" text-anchor="middle" class="tag">(c)</text>
<polyline points="26.50,149.30 62.75,165.90 99.00,163.80 135.25,156.50 171.50,167.80 207.75,159.60 244.00,147.90 280.25,148.60 316.50,145.10" fill="none" stroke="#e03a3a" stroke-width="0.62"/>
<polyline points="26.50,153.20 62.75,167.50 99.00,165.70 135.25,157.80 171.50,168.50 207.75,160.50 244.00,150.50 280.25,151.40 316.50,150.90" fill="none" stroke="#e03a3a" stroke-width="0.62"/>
<polyline points="26.50,138.90 62.75,144.30 99.00,144.40 135.25,150.50 171.50,114.40 207.75,126.80 244.00,140.30 280.25,133.30 316.50,144.30" fill="none" stroke="#e03a3a" stroke-width="0.62" stroke-dasharray="4.3,2.2"/>
<polyline points="26.50,147.90 62.75,148.50 99.00,154.30 135.25,156.50 171.50,122.00 207.75,136.30 244.00,145.60 280.25,138.60 316.50,150.50" fill="none" stroke="#e03a3a" stroke-width="0.62" stroke-dasharray="4.3,2.2"/>
<polyline points="26.50,160.70 62.75,154.20 99.00,155.20 135.25,155.80 171.50,153.70 207.75,158.30 244.00,162.00 280.25,161.20 316.50,162.20" fill="none" stroke="#3d3df2" stroke-width="0.62"/>
<polyline points="26.50,146.10 62.75,115.80 99.00,119.60 135.25,126.40 171.50,106.80 207.75,140.60 244.00,147.50 280.25,146.00 316.50,154.30" fill="none" stroke="#3d3df2" stroke-width="0.62"/>
<polyline points="26.50,169.30 62.75,162.50 99.00,157.70 135.25,162.30 171.50,167.00 207.75,158.00 244.00,170.20 280.25,165.20 316.50,163.80" fill="none" stroke="#3d3df2" stroke-width="0.62" stroke-dasharray="4.3,2.2"/>
<polyline points="26.50,160.70 62.75,144.30 99.00,148.60 135.25,142.90 171.50,158.00 207.75,144.30 244.00,160.90 280.25,158.90 316.50,147.00" fill="none" stroke="#3d3df2" stroke-width="0.62" stroke-dasharray="4.3,2.2"/>
<rect x="25.25" y="148.05" width="2.5" height="2.5" fill="#ff0000" stroke="#500000" stroke-width="0.45"/>
<rect x="61.50" y="164.65" width="2.5" height="2.5" fill="#ff0000" stroke="#500000" stroke-width="0.45"/>
<rect x="97.75" y="162.55" width="2.5" height="2.5" fill="#ff0000" stroke="#500000" stroke-width="0.45"/>
<rect x="134.00" y="155.25" width="2.5" height="2.5" fill="#ff0000" stroke="#500000" stroke-width="0.45"/>
<rect x="170.25" y="166.55" width="2.5" height="2.5" fill="#ff0000" stroke="#500000" stroke-width="0.45"/>
<rect x="206.50" y="158.35" width="2.5" height="2.5" fill="#ff0000" stroke="#500000" stroke-width="0.45"/>
<rect x="242.75" y="146.65" width="2.5" height="2.5" fill="#ff0000" stroke="#500000" stroke-width="0.45"/>
<rect x="279.00" y="147.35" width="2.5" height="2.5" fill="#ff0000" stroke="#500000" stroke-width="0.45"/>
<rect x="315.25" y="143.85" width="2.5" height="2.5" fill="#ff0000" stroke="#500000" stroke-width="0.45"/>
<path d="M24.90,154.50h3.2l-1.6,-2.7z" fill="#ff0000" stroke="#500000" stroke-width="0.4"/>
<path d="M61.15,168.80h3.2l-1.6,-2.7z" fill="#ff0000" stroke="#500000" stroke-width="0.4"/>
<path d="M97.40,167.00h3.2l-1.6,-2.7z" fill="#ff0000" stroke="#500000" stroke-width="0.4"/>
<path d="M133.65,159.10h3.2l-1.6,-2.7z" fill="#ff0000" stroke="#500000" stroke-width="0.4"/>
<path d="M169.90,169.80h3.2l-1.6,-2.7z" fill="#ff0000" stroke="#500000" stroke-width="0.4"/>
<path d="M206.15,161.80h3.2l-1.6,-2.7z" fill="#ff0000" stroke="#500000" stroke-width="0.4"/>
<path d="M242.40,151.80h3.2l-1.6,-2.7z" fill="#ff0000" stroke="#500000" stroke-width="0.4"/>
<path d="M278.65,152.70h3.2l-1.6,-2.7z" fill="#ff0000" stroke="#500000" stroke-width="0.4"/>
<path d="M314.90,152.20h3.2l-1.6,-2.7z" fill="#ff0000" stroke="#500000" stroke-width="0.4"/>
<rect x="25.25" y="137.65" width="2.5" height="2.5" fill="#ff0000" stroke="#500000" stroke-width="0.45"/>
<rect x="61.50" y="143.05" width="2.5" height="2.5" fill="#ff0000" stroke="#500000" stroke-width="0.45"/>
<rect x="97.75" y="143.15" width="2.5" height="2.5" fill="#ff0000" stroke="#500000" stroke-width="0.45"/>
<rect x="134.00" y="149.25" width="2.5" height="2.5" fill="#ff0000" stroke="#500000" stroke-width="0.45"/>
<rect x="170.25" y="113.15" width="2.5" height="2.5" fill="#ff0000" stroke="#500000" stroke-width="0.45"/>
<rect x="206.50" y="125.55" width="2.5" height="2.5" fill="#ff0000" stroke="#500000" stroke-width="0.45"/>
<rect x="242.75" y="139.05" width="2.5" height="2.5" fill="#ff0000" stroke="#500000" stroke-width="0.45"/>
<rect x="279.00" y="132.05" width="2.5" height="2.5" fill="#ff0000" stroke="#500000" stroke-width="0.45"/>
<rect x="315.25" y="143.05" width="2.5" height="2.5" fill="#ff0000" stroke="#500000" stroke-width="0.45"/>
<path d="M24.90,149.20h3.2l-1.6,-2.7z" fill="#ff0000" stroke="#500000" stroke-width="0.4"/>
<path d="M61.15,149.80h3.2l-1.6,-2.7z" fill="#ff0000" stroke="#500000" stroke-width="0.4"/>
<path d="M97.40,155.60h3.2l-1.6,-2.7z" fill="#ff0000" stroke="#500000" stroke-width="0.4"/>
<path d="M133.65,157.80h3.2l-1.6,-2.7z" fill="#ff0000" stroke="#500000" stroke-width="0.4"/>
<path d="M169.90,123.30h3.2l-1.6,-2.7z" fill="#ff0000" stroke="#500000" stroke-width="0.4"/>
<path d="M206.15,137.60h3.2l-1.6,-2.7z" fill="#ff0000" stroke="#500000" stroke-width="0.4"/>
<path d="M242.40,146.90h3.2l-1.6,-2.7z" fill="#ff0000" stroke="#500000" stroke-width="0.4"/>
<path d="M278.65,139.90h3.2l-1.6,-2.7z" fill="#ff0000" stroke="#500000" stroke-width="0.4"/>
<path d="M314.90,151.80h3.2l-1.6,-2.7z" fill="#ff0000" stroke="#500000" stroke-width="0.4"/>
<circle cx="26.50" cy="160.70" r="1.35" fill="#0000ee" stroke="#000040" stroke-width="0.35"/>
<circle cx="62.75" cy="154.20" r="1.35" fill="#0000ee" stroke="#000040" stroke-width="0.35"/>
<circle cx="99.00" cy="155.20" r="1.35" fill="#0000ee" stroke="#000040" stroke-width="0.35"/>
<circle cx="135.25" cy="155.80" r="1.35" fill="#0000ee" stroke="#000040" stroke-width="0.35"/>
<circle cx="171.50" cy="153.70" r="1.35" fill="#0000ee" stroke="#000040" stroke-width="0.35"/>
<circle cx="207.75" cy="158.30" r="1.35" fill="#0000ee" stroke="#000040" stroke-width="0.35"/>
<circle cx="244.00" cy="162.00" r="1.35" fill="#0000ee" stroke="#000040" stroke-width="0.35"/>
<circle cx="280.25" cy="161.20" r="1.35" fill="#0000ee" stroke="#000040" stroke-width="0.35"/>
<circle cx="316.50" cy="162.20" r="1.35" fill="#0000ee" stroke="#000040" stroke-width="0.35"/>
<path d="M24.90,144.80h3.2l-1.6,2.7z" fill="#0000ee" stroke="#000040" stroke-width="0.35"/>
<path d="M61.15,114.50h3.2l-1.6,2.7z" fill="#0000ee" stroke="#000040" stroke-width="0.35"/>
<path d="M97.40,118.30h3.2l-1.6,2.7z" fill="#0000ee" stroke="#000040" stroke-width="0.35"/>
<path d="M133.65,125.10h3.2l-1.6,2.7z" fill="#0000ee" stroke="#000040" stroke-width="0.35"/>
<path d="M169.90,105.50h3.2l-1.6,2.7z" fill="#0000ee" stroke="#000040" stroke-width="0.35"/>
<path d="M206.15,139.30h3.2l-1.6,2.7z" fill="#0000ee" stroke="#000040" stroke-width="0.35"/>
<path d="M242.40,146.20h3.2l-1.6,2.7z" fill="#0000ee" stroke="#000040" stroke-width="0.35"/>
<path d="M278.65,144.70h3.2l-1.6,2.7z" fill="#0000ee" stroke="#000040" stroke-width="0.35"/>
<path d="M314.90,153.00h3.2l-1.6,2.7z" fill="#0000ee" stroke="#000040" stroke-width="0.35"/>
<circle cx="26.50" cy="169.30" r="1.35" fill="#0000ee" stroke="#000040" stroke-width="0.35"/>
<circle cx="62.75" cy="162.50" r="1.35" fill="#0000ee" stroke="#000040" stroke-width="0.35"/>
<circle cx="99.00" cy="157.70" r="1.35" fill="#0000ee" stroke="#000040" stroke-width="0.35"/>
<circle cx="135.25" cy="162.30" r="1.35" fill="#0000ee" stroke="#000040" stroke-width="0.35"/>
<circle cx="171.50" cy="167.00" r="1.35" fill="#0000ee" stroke="#000040" stroke-width="0.35"/>
<circle cx="207.75" cy="158.00" r="1.35" fill="#0000ee" stroke="#000040" stroke-width="0.35"/>
<circle cx="244.00" cy="170.20" r="1.35" fill="#0000ee" stroke="#000040" stroke-width="0.35"/>
<circle cx="280.25" cy="165.20" r="1.35" fill="#0000ee" stroke="#000040" stroke-width="0.35"/>
<circle cx="316.50" cy="163.80" r="1.35" fill="#0000ee" stroke="#000040" stroke-width="0.35"/>
<path d="M24.90,159.40h3.2l-1.6,2.7z" fill="#0000ee" stroke="#000040" stroke-width="0.35"/>
<path d="M61.15,143.00h3.2l-1.6,2.7z" fill="#0000ee" stroke="#000040" stroke-width="0.35"/>
<path d="M97.40,147.30h3.2l-1.6,2.7z" fill="#0000ee" stroke="#000040" stroke-width="0.35"/>
<path d="M133.65,141.60h3.2l-1.6,2.7z" fill="#0000ee" stroke="#000040" stroke-width="0.35"/>
<path d="M169.90,156.70h3.2l-1.6,2.7z" fill="#0000ee" stroke="#000040" stroke-width="0.35"/>
<path d="M206.15,143.00h3.2l-1.6,2.7z" fill="#0000ee" stroke="#000040" stroke-width="0.35"/>
<path d="M242.40,159.60h3.2l-1.6,2.7z" fill="#0000ee" stroke="#000040" stroke-width="0.35"/>
<path d="M278.65,157.60h3.2l-1.6,2.7z" fill="#0000ee" stroke="#000040" stroke-width="0.35"/>
<path d="M314.90,145.70h3.2l-1.6,2.7z" fill="#0000ee" stroke="#000040" stroke-width="0.35"/>
<line x1="372.0" y1="106.5" x2="662.5" y2="106.5" stroke="#5a5a5a" stroke-width="1.1"/>
<line x1="372.0" y1="171.5" x2="662.5" y2="171.5" stroke="#5a5a5a" stroke-width="1.1"/>
<line x1="408.31" y1="171.5" x2="408.31" y2="168.5" stroke="#3c3c3c" stroke-width="0.9"/>
<line x1="408.31" y1="106.5" x2="408.31" y2="109.5" stroke="#3c3c3c" stroke-width="0.9"/>
<line x1="444.62" y1="171.5" x2="444.62" y2="168.5" stroke="#3c3c3c" stroke-width="0.9"/>
<line x1="444.62" y1="106.5" x2="444.62" y2="109.5" stroke="#3c3c3c" stroke-width="0.9"/>
<line x1="480.94" y1="171.5" x2="480.94" y2="168.5" stroke="#3c3c3c" stroke-width="0.9"/>
<line x1="480.94" y1="106.5" x2="480.94" y2="109.5" stroke="#3c3c3c" stroke-width="0.9"/>
<line x1="517.25" y1="171.5" x2="517.25" y2="168.5" stroke="#3c3c3c" stroke-width="0.9"/>
<line x1="517.25" y1="106.5" x2="517.25" y2="109.5" stroke="#3c3c3c" stroke-width="0.9"/>
<line x1="553.56" y1="171.5" x2="553.56" y2="168.5" stroke="#3c3c3c" stroke-width="0.9"/>
<line x1="553.56" y1="106.5" x2="553.56" y2="109.5" stroke="#3c3c3c" stroke-width="0.9"/>
<line x1="589.88" y1="171.5" x2="589.88" y2="168.5" stroke="#3c3c3c" stroke-width="0.9"/>
<line x1="589.88" y1="106.5" x2="589.88" y2="109.5" stroke="#3c3c3c" stroke-width="0.9"/>
<line x1="626.19" y1="171.5" x2="626.19" y2="168.5" stroke="#3c3c3c" stroke-width="0.9"/>
<line x1="626.19" y1="106.5" x2="626.19" y2="109.5" stroke="#3c3c3c" stroke-width="0.9"/>
<line x1="372.0" y1="106.5" x2="372.0" y2="171.5" stroke="#3535f0" stroke-width="1"/>
<line x1="372.0" y1="171.50" x2="375.0" y2="171.50" stroke="#3535f0" stroke-width="1"/>
<text x="368.8" y="174.90" text-anchor="end" class="tl" fill="#1a1aff" stroke="#1a1aff">0.0</text>
<line x1="372.0" y1="160.67" x2="375.0" y2="160.67" stroke="#3535f0" stroke-width="1"/>
<text x="368.8" y="164.07" text-anchor="end" class="tl" fill="#1a1aff" stroke="#1a1aff">0.6</text>
<line x1="372.0" y1="149.83" x2="375.0" y2="149.83" stroke="#3535f0" stroke-width="1"/>
<text x="368.8" y="153.23" text-anchor="end" class="tl" fill="#1a1aff" stroke="#1a1aff">1.2</text>
<line x1="372.0" y1="139.00" x2="375.0" y2="139.00" stroke="#3535f0" stroke-width="1"/>
<text x="368.8" y="142.40" text-anchor="end" class="tl" fill="#1a1aff" stroke="#1a1aff">1.8</text>
<line x1="372.0" y1="128.17" x2="375.0" y2="128.17" stroke="#3535f0" stroke-width="1"/>
<text x="368.8" y="131.57" text-anchor="end" class="tl" fill="#1a1aff" stroke="#1a1aff">2.4</text>
<line x1="372.0" y1="117.33" x2="375.0" y2="117.33" stroke="#3535f0" stroke-width="1"/>
<text x="368.8" y="120.73" text-anchor="end" class="tl" fill="#1a1aff" stroke="#1a1aff">3.0</text>
<line x1="372.0" y1="106.50" x2="375.0" y2="106.50" stroke="#3535f0" stroke-width="1"/>
<text x="368.8" y="109.90" text-anchor="end" class="tl" fill="#1a1aff" stroke="#1a1aff">3.6</text>
<line x1="662.5" y1="106.5" x2="662.5" y2="171.5" stroke="#e83030" stroke-width="1"/>
<line x1="662.5" y1="171.50" x2="659.5" y2="171.50" stroke="#e83030" stroke-width="1"/>
<text x="666.1" y="174.90" class="tl" fill="#ee1111" stroke="#ee1111">0</text>
<line x1="662.5" y1="149.83" x2="659.5" y2="149.83" stroke="#e83030" stroke-width="1"/>
<text x="666.1" y="153.23" class="tl" fill="#ee1111" stroke="#ee1111">2</text>
<line x1="662.5" y1="128.17" x2="659.5" y2="128.17" stroke="#e83030" stroke-width="1"/>
<text x="666.1" y="131.57" class="tl" fill="#ee1111" stroke="#ee1111">4</text>
<line x1="662.5" y1="106.50" x2="659.5" y2="106.50" stroke="#e83030" stroke-width="1"/>
<text x="666.1" y="109.90" class="tl" fill="#ee1111" stroke="#ee1111">6</text>
<text x="372.00" y="183.30" text-anchor="middle" class="xl">CR</text>
<text x="408.31" y="183.30" text-anchor="middle" class="xl">FD</text>
<text x="444.62" y="183.30" text-anchor="middle" class="xl">SD</text>
<text x="480.94" y="183.30" text-anchor="middle" class="xl">L<tspan font-size="7" dx="0.4" dy="3.2">1</tspan></text>
<text x="517.25" y="183.30" text-anchor="middle" class="xl">L<tspan font-size="7" dx="0.4" dy="3.2">2</tspan></text>
<text x="553.56" y="183.30" text-anchor="middle" class="xl">L<tspan font-size="7" dx="0.4" dy="3.2">3</tspan></text>
<text x="589.88" y="183.30" text-anchor="middle" class="xl">L<tspan font-size="7" dx="0.4" dy="3.2">4</tspan></text>
<text x="626.19" y="183.30" text-anchor="middle" class="xl">L<tspan font-size="7" dx="0.4" dy="3.2">6</tspan></text>
<text x="662.50" y="183.30" text-anchor="middle" class="xl">L<tspan font-size="7" dx="0.4" dy="3.2">all</tspan></text>
<text x="648.25" y="116.80" text-anchor="middle" class="tag">(d)</text>
<polyline points="372.00,137.20 408.31,152.70 444.62,161.80 480.94,142.40 517.25,150.90 553.56,134.90 589.88,134.10 626.19,134.00 662.50,156.10" fill="none" stroke="#e03a3a" stroke-width="0.62"/>
<polyline points="372.00,147.60 408.31,157.70 444.62,162.50 480.94,151.20 517.25,157.00 553.56,140.60 589.88,143.60 626.19,141.50 662.50,161.00" fill="none" stroke="#e03a3a" stroke-width="0.62"/>
<polyline points="372.00,108.70 408.31,140.10 444.62,158.00 480.94,147.00 517.25,135.40 553.56,145.40 589.88,114.40 626.19,136.00 662.50,141.50" fill="none" stroke="#e03a3a" stroke-width="0.62" stroke-dasharray="4.3,2.2"/>
<polyline points="372.00,112.50 408.31,143.10 444.62,160.00 480.94,150.00 517.25,143.00 553.56,142.00 589.88,116.30 626.19,140.50 662.50,148.80" fill="none" stroke="#e03a3a" stroke-width="0.62" stroke-dasharray="4.3,2.2"/>
<polyline points="372.00,159.00 408.31,155.10 444.62,153.90 480.94,154.30 517.25,154.90 553.56,160.20 589.88,157.90 626.19,161.30 662.50,154.00" fill="none" stroke="#3d3df2" stroke-width="0.62"/>
<polyline points="372.00,139.10 408.31,127.70 444.62,108.80 480.94,151.20 517.25,133.10 553.56,145.00 589.88,157.70 626.19,148.20 662.50,115.40" fill="none" stroke="#3d3df2" stroke-width="0.62"/>
<polyline points="372.00,169.50 408.31,156.00 444.62,154.20 480.94,157.00 517.25,160.40 553.56,160.40 589.88,162.30 626.19,161.30 662.50,155.00" fill="none" stroke="#3d3df2" stroke-width="0.62" stroke-dasharray="4.3,2.2"/>
<polyline points="372.00,160.90 408.31,161.00 444.62,109.60 480.94,151.20 517.25,150.00 553.56,139.40 589.88,164.80 626.19,142.30 662.50,156.70" fill="none" stroke="#3d3df2" stroke-width="0.62" stroke-dasharray="4.3,2.2"/>
<rect x="370.75" y="135.95" width="2.5" height="2.5" fill="#ff0000" stroke="#500000" stroke-width="0.45"/>
<rect x="407.06" y="151.45" width="2.5" height="2.5" fill="#ff0000" stroke="#500000" stroke-width="0.45"/>
<rect x="443.38" y="160.55" width="2.5" height="2.5" fill="#ff0000" stroke="#500000" stroke-width="0.45"/>
<rect x="479.69" y="141.15" width="2.5" height="2.5" fill="#ff0000" stroke="#500000" stroke-width="0.45"/>
<rect x="516.00" y="149.65" width="2.5" height="2.5" fill="#ff0000" stroke="#500000" stroke-width="0.45"/>
<rect x="552.31" y="133.65" width="2.5" height="2.5" fill="#ff0000" stroke="#500000" stroke-width="0.45"/>
<rect x="588.62" y="132.85" width="2.5" height="2.5" fill="#ff0000" stroke="#500000" stroke-width="0.45"/>
<rect x="624.94" y="132.75" width="2.5" height="2.5" fill="#ff0000" stroke="#500000" stroke-width="0.45"/>
<rect x="661.25" y="154.85" width="2.5" height="2.5" fill="#ff0000" stroke="#500000" stroke-width="0.45"/>
<path d="M370.40,148.90h3.2l-1.6,-2.7z" fill="#ff0000" stroke="#500000" stroke-width="0.4"/>
<path d="M406.71,159.00h3.2l-1.6,-2.7z" fill="#ff0000" stroke="#500000" stroke-width="0.4"/>
<path d="M443.02,163.80h3.2l-1.6,-2.7z" fill="#ff0000" stroke="#500000" stroke-width="0.4"/>
<path d="M479.34,152.50h3.2l-1.6,-2.7z" fill="#ff0000" stroke="#500000" stroke-width="0.4"/>
<path d="M515.65,158.30h3.2l-1.6,-2.7z" fill="#ff0000" stroke="#500000" stroke-width="0.4"/>
<path d="M551.96,141.90h3.2l-1.6,-2.7z" fill="#ff0000" stroke="#500000" stroke-width="0.4"/>
<path d="M588.27,144.90h3.2l-1.6,-2.7z" fill="#ff0000" stroke="#500000" stroke-width="0.4"/>
<path d="M624.59,142.80h3.2l-1.6,-2.7z" fill="#ff0000" stroke="#500000" stroke-width="0.4"/>
<path d="M660.90,162.30h3.2l-1.6,-2.7z" fill="#ff0000" stroke="#500000" stroke-width="0.4"/>
<rect x="370.75" y="107.45" width="2.5" height="2.5" fill="#ff0000" stroke="#500000" stroke-width="0.45"/>
<rect x="407.06" y="138.85" width="2.5" height="2.5" fill="#ff0000" stroke="#500000" stroke-width="0.45"/>
<rect x="443.38" y="156.75" width="2.5" height="2.5" fill="#ff0000" stroke="#500000" stroke-width="0.45"/>
<rect x="479.69" y="145.75" width="2.5" height="2.5" fill="#ff0000" stroke="#500000" stroke-width="0.45"/>
<rect x="516.00" y="134.15" width="2.5" height="2.5" fill="#ff0000" stroke="#500000" stroke-width="0.45"/>
<rect x="552.31" y="144.15" width="2.5" height="2.5" fill="#ff0000" stroke="#500000" stroke-width="0.45"/>
<rect x="588.62" y="113.15" width="2.5" height="2.5" fill="#ff0000" stroke="#500000" stroke-width="0.45"/>
<rect x="624.94" y="134.75" width="2.5" height="2.5" fill="#ff0000" stroke="#500000" stroke-width="0.45"/>
<rect x="661.25" y="140.25" width="2.5" height="2.5" fill="#ff0000" stroke="#500000" stroke-width="0.45"/>
<path d="M370.40,113.80h3.2l-1.6,-2.7z" fill="#ff0000" stroke="#500000" stroke-width="0.4"/>
<path d="M406.71,144.40h3.2l-1.6,-2.7z" fill="#ff0000" stroke="#500000" stroke-width="0.4"/>
<path d="M443.02,161.30h3.2l-1.6,-2.7z" fill="#ff0000" stroke="#500000" stroke-width="0.4"/>
<path d="M479.34,151.30h3.2l-1.6,-2.7z" fill="#ff0000" stroke="#500000" stroke-width="0.4"/>
<path d="M515.65,144.30h3.2l-1.6,-2.7z" fill="#ff0000" stroke="#500000" stroke-width="0.4"/>
<path d="M551.96,143.30h3.2l-1.6,-2.7z" fill="#ff0000" stroke="#500000" stroke-width="0.4"/>
<path d="M588.27,117.60h3.2l-1.6,-2.7z" fill="#ff0000" stroke="#500000" stroke-width="0.4"/>
<path d="M624.59,141.80h3.2l-1.6,-2.7z" fill="#ff0000" stroke="#500000" stroke-width="0.4"/>
<path d="M660.90,150.10h3.2l-1.6,-2.7z" fill="#ff0000" stroke="#500000" stroke-width="0.4"/>
<circle cx="372.00" cy="159.00" r="1.35" fill="#0000ee" stroke="#000040" stroke-width="0.35"/>
<circle cx="408.31" cy="155.10" r="1.35" fill="#0000ee" stroke="#000040" stroke-width="0.35"/>
<circle cx="444.62" cy="153.90" r="1.35" fill="#0000ee" stroke="#000040" stroke-width="0.35"/>
<circle cx="480.94" cy="154.30" r="1.35" fill="#0000ee" stroke="#000040" stroke-width="0.35"/>
<circle cx="517.25" cy="154.90" r="1.35" fill="#0000ee" stroke="#000040" stroke-width="0.35"/>
<circle cx="553.56" cy="160.20" r="1.35" fill="#0000ee" stroke="#000040" stroke-width="0.35"/>
<circle cx="589.88" cy="157.90" r="1.35" fill="#0000ee" stroke="#000040" stroke-width="0.35"/>
<circle cx="626.19" cy="161.30" r="1.35" fill="#0000ee" stroke="#000040" stroke-width="0.35"/>
<circle cx="662.50" cy="154.00" r="1.35" fill="#0000ee" stroke="#000040" stroke-width="0.35"/>
<path d="M370.40,137.80h3.2l-1.6,2.7z" fill="#0000ee" stroke="#000040" stroke-width="0.35"/>
<path d="M406.71,126.40h3.2l-1.6,2.7z" fill="#0000ee" stroke="#000040" stroke-width="0.35"/>
<path d="M443.02,107.50h3.2l-1.6,2.7z" fill="#0000ee" stroke="#000040" stroke-width="0.35"/>
<path d="M479.34,149.90h3.2l-1.6,2.7z" fill="#0000ee" stroke="#000040" stroke-width="0.35"/>
<path d="M515.65,131.80h3.2l-1.6,2.7z" fill="#0000ee" stroke="#000040" stroke-width="0.35"/>
<path d="M551.96,143.70h3.2l-1.6,2.7z" fill="#0000ee" stroke="#000040" stroke-width="0.35"/>
<path d="M588.27,156.40h3.2l-1.6,2.7z" fill="#0000ee" stroke="#000040" stroke-width="0.35"/>
<path d="M624.59,146.90h3.2l-1.6,2.7z" fill="#0000ee" stroke="#000040" stroke-width="0.35"/>
<path d="M660.90,114.10h3.2l-1.6,2.7z" fill="#0000ee" stroke="#000040" stroke-width="0.35"/>
<circle cx="372.00" cy="169.50" r="1.35" fill="#0000ee" stroke="#000040" stroke-width="0.35"/>
<circle cx="408.31" cy="156.00" r="1.35" fill="#0000ee" stroke="#000040" stroke-width="0.35"/>
<circle cx="444.62" cy="154.20" r="1.35" fill="#0000ee" stroke="#000040" stroke-width="0.35"/>
<circle cx="480.94" cy="157.00" r="1.35" fill="#0000ee" stroke="#000040" stroke-width="0.35"/>
<circle cx="517.25" cy="160.40" r="1.35" fill="#0000ee" stroke="#000040" stroke-width="0.35"/>
<circle cx="553.56" cy="160.40" r="1.35" fill="#0000ee" stroke="#000040" stroke-width="0.35"/>
<circle cx="589.88" cy="162.30" r="1.35" fill="#0000ee" stroke="#000040" stroke-width="0.35"/>
<circle cx="626.19" cy="161.30" r="1.35" fill="#0000ee" stroke="#000040" stroke-width="0.35"/>
<circle cx="662.50" cy="155.00" r="1.35" fill="#0000ee" stroke="#000040" stroke-width="0.35"/>
<path d="M370.40,159.60h3.2l-1.6,2.7z" fill="#0000ee" stroke="#000040" stroke-width="0.35"/>
<path d="M406.71,159.70h3.2l-1.6,2.7z" fill="#0000ee" stroke="#000040" stroke-width="0.35"/>
<path d="M443.02,108.30h3.2l-1.6,2.7z" fill="#0000ee" stroke="#000040" stroke-width="0.35"/>
<path d="M479.34,149.90h3.2l-1.6,2.7z" fill="#0000ee" stroke="#000040" stroke-width="0.35"/>
<path d="M515.65,148.70h3.2l-1.6,2.7z" fill="#0000ee" stroke="#000040" stroke-width="0.35"/>
<path d="M551.96,138.10h3.2l-1.6,2.7z" fill="#0000ee" stroke="#000040" stroke-width="0.35"/>
<path d="M588.27,163.50h3.2l-1.6,2.7z" fill="#0000ee" stroke="#000040" stroke-width="0.35"/>
<path d="M624.59,141.00h3.2l-1.6,2.7z" fill="#0000ee" stroke="#000040" stroke-width="0.35"/>
<path d="M660.90,155.40h3.2l-1.6,2.7z" fill="#0000ee" stroke="#000040" stroke-width="0.35"/>
<line x1="26.5" y1="190.5" x2="316.5" y2="190.5" stroke="#5a5a5a" stroke-width="1.1"/>
<line x1="26.5" y1="255.5" x2="316.5" y2="255.5" stroke="#5a5a5a" stroke-width="1.1"/>
<line x1="55.50" y1="255.5" x2="55.50" y2="252.5" stroke="#3c3c3c" stroke-width="0.9"/>
<line x1="55.50" y1="190.5" x2="55.50" y2="193.5" stroke="#3c3c3c" stroke-width="0.9"/>
<line x1="84.50" y1="255.5" x2="84.50" y2="252.5" stroke="#3c3c3c" stroke-width="0.9"/>
<line x1="84.50" y1="190.5" x2="84.50" y2="193.5" stroke="#3c3c3c" stroke-width="0.9"/>
<line x1="113.50" y1="255.5" x2="113.50" y2="252.5" stroke="#3c3c3c" stroke-width="0.9"/>
<line x1="113.50" y1="190.5" x2="113.50" y2="193.5" stroke="#3c3c3c" stroke-width="0.9"/>
<line x1="142.50" y1="255.5" x2="142.50" y2="252.5" stroke="#3c3c3c" stroke-width="0.9"/>
<line x1="142.50" y1="190.5" x2="142.50" y2="193.5" stroke="#3c3c3c" stroke-width="0.9"/>
<line x1="171.50" y1="255.5" x2="171.50" y2="252.5" stroke="#3c3c3c" stroke-width="0.9"/>
<line x1="171.50" y1="190.5" x2="171.50" y2="193.5" stroke="#3c3c3c" stroke-width="0.9"/>
<line x1="200.50" y1="255.5" x2="200.50" y2="252.5" stroke="#3c3c3c" stroke-width="0.9"/>
<line x1="200.50" y1="190.5" x2="200.50" y2="193.5" stroke="#3c3c3c" stroke-width="0.9"/>
<line x1="229.50" y1="255.5" x2="229.50" y2="252.5" stroke="#3c3c3c" stroke-width="0.9"/>
<line x1="229.50" y1="190.5" x2="229.50" y2="193.5" stroke="#3c3c3c" stroke-width="0.9"/>
<line x1="258.50" y1="255.5" x2="258.50" y2="252.5" stroke="#3c3c3c" stroke-width="0.9"/>
<line x1="258.50" y1="190.5" x2="258.50" y2="193.5" stroke="#3c3c3c" stroke-width="0.9"/>
<line x1="287.50" y1="255.5" x2="287.50" y2="252.5" stroke="#3c3c3c" stroke-width="0.9"/>
<line x1="287.50" y1="190.5" x2="287.50" y2="193.5" stroke="#3c3c3c" stroke-width="0.9"/>
<line x1="26.5" y1="190.5" x2="26.5" y2="255.5" stroke="#3535f0" stroke-width="1"/>
<line x1="26.5" y1="255.50" x2="29.5" y2="255.50" stroke="#3535f0" stroke-width="1"/>
<text x="23.3" y="258.90" text-anchor="end" class="tl" fill="#1a1aff" stroke="#1a1aff">0.0</text>
<line x1="26.5" y1="244.67" x2="29.5" y2="244.67" stroke="#3535f0" stroke-width="1"/>
<text x="23.3" y="248.07" text-anchor="end" class="tl" fill="#1a1aff" stroke="#1a1aff">0.5</text>
<line x1="26.5" y1="233.83" x2="29.5" y2="233.83" stroke="#3535f0" stroke-width="1"/>
<text x="23.3" y="237.23" text-anchor="end" class="tl" fill="#1a1aff" stroke="#1a1aff">1.0</text>
<line x1="26.5" y1="223.00" x2="29.5" y2="223.00" stroke="#3535f0" stroke-width="1"/>
<text x="23.3" y="226.40" text-anchor="end" class="tl" fill="#1a1aff" stroke="#1a1aff">1.5</text>
<line x1="26.5" y1="212.17" x2="29.5" y2="212.17" stroke="#3535f0" stroke-width="1"/>
<text x="23.3" y="215.57" text-anchor="end" class="tl" fill="#1a1aff" stroke="#1a1aff">2.0</text>
<line x1="26.5" y1="201.33" x2="29.5" y2="201.33" stroke="#3535f0" stroke-width="1"/>
<text x="23.3" y="204.73" text-anchor="end" class="tl" fill="#1a1aff" stroke="#1a1aff">2.5</text>
<line x1="26.5" y1="190.50" x2="29.5" y2="190.50" stroke="#3535f0" stroke-width="1"/>
<text x="23.3" y="193.90" text-anchor="end" class="tl" fill="#1a1aff" stroke="#1a1aff">3.0</text>
<line x1="316.5" y1="190.5" x2="316.5" y2="255.5" stroke="#e83030" stroke-width="1"/>
<line x1="316.5" y1="255.50" x2="313.5" y2="255.50" stroke="#e83030" stroke-width="1"/>
<text x="320.1" y="258.90" class="tl" fill="#ee1111" stroke="#ee1111">4</text>
<line x1="316.5" y1="239.25" x2="313.5" y2="239.25" stroke="#e83030" stroke-width="1"/>
<text x="320.1" y="242.65" class="tl" fill="#ee1111" stroke="#ee1111">6</text>
<line x1="316.5" y1="223.00" x2="313.5" y2="223.00" stroke="#e83030" stroke-width="1"/>
<text x="320.1" y="226.40" class="tl" fill="#ee1111" stroke="#ee1111">8</text>
<line x1="316.5" y1="206.75" x2="313.5" y2="206.75" stroke="#e83030" stroke-width="1"/>
<text x="320.1" y="210.15" class="tl" fill="#ee1111" stroke="#ee1111">10</text>
<line x1="316.5" y1="190.50" x2="313.5" y2="190.50" stroke="#e83030" stroke-width="1"/>
<text x="320.1" y="193.90" class="tl" fill="#ee1111" stroke="#ee1111">12</text>
<text x="26.50" y="267.30" text-anchor="middle" class="xl">CR</text>
<text x="55.50" y="267.30" text-anchor="middle" class="xl">FD</text>
<text x="84.50" y="267.30" text-anchor="middle" class="xl">SNV</text>
<text x="113.50" y="267.30" text-anchor="middle" class="xl">L<tspan font-size="7" dx="0.4" dy="3.2">3</tspan></text>
<text x="142.50" y="267.30" text-anchor="middle" class="xl">L<tspan font-size="7" dx="0.4" dy="3.2">4</tspan></text>
<text x="171.50" y="267.30" text-anchor="middle" class="xl">L<tspan font-size="7" dx="0.4" dy="3.2">5</tspan></text>
<text x="200.50" y="267.30" text-anchor="middle" class="xl">L<tspan font-size="7" dx="0.4" dy="3.2">6</tspan></text>
<text x="229.50" y="267.30" text-anchor="middle" class="xl">L<tspan font-size="7" dx="0.4" dy="3.2">7</tspan></text>
<text x="258.50" y="267.30" text-anchor="middle" class="xl">L<tspan font-size="7" dx="0.4" dy="3.2">8</tspan></text>
<text x="287.50" y="267.30" text-anchor="middle" class="xl">L<tspan font-size="7" dx="0.4" dy="3.2">9</tspan></text>
<text x="316.50" y="267.30" text-anchor="middle" class="xl">L<tspan font-size="7" dx="0.4" dy="3.2">all</tspan></text>
<text x="303.25" y="200.50" text-anchor="middle" class="tag">(e)</text>
<polyline points="26.50,230.70 55.50,232.20 84.50,231.10 113.50,232.00 142.50,231.10 171.50,233.50 200.50,237.00 229.50,228.00 258.50,212.00 287.50,217.40 316.50,232.60" fill="none" stroke="#e03a3a" stroke-width="0.62"/>
<polyline points="26.50,244.40 55.50,244.40 84.50,240.60 113.50,246.70 142.50,242.20 171.50,244.90 200.50,248.00 229.50,243.40 258.50,227.50 287.50,230.10 316.50,240.00" fill="none" stroke="#e03a3a" stroke-width="0.62"/>
<polyline points="26.50,218.40 55.50,220.30 84.50,200.90 113.50,220.50 142.50,242.10 171.50,229.40 200.50,224.80 229.50,211.90 258.50,211.90 287.50,217.40 316.50,229.00" fill="none" stroke="#e03a3a" stroke-width="0.62" stroke-dasharray="4.3,2.2"/>
<polyline points="26.50,233.50 55.50,239.60 84.50,220.80 113.50,234.50 142.50,242.10 171.50,238.90 200.50,239.20 229.50,228.30 258.50,225.80 287.50,230.10 316.50,241.00" fill="none" stroke="#e03a3a" stroke-width="0.62" stroke-dasharray="4.3,2.2"/>
<polyline points="26.50,241.70 55.50,241.50 84.50,240.60 113.50,241.50 142.50,241.60 171.50,240.80 200.50,241.00 229.50,243.20 258.50,247.20 287.50,245.50 316.50,243.40" fill="none" stroke="#3d3df2" stroke-width="0.62"/>
<polyline points="26.50,226.90 55.50,226.90 84.50,226.30 113.50,226.60 142.50,224.00 171.50,225.00 200.50,221.40 229.50,228.80 258.50,239.20 287.50,235.10 316.50,223.70" fill="none" stroke="#3d3df2" stroke-width="0.62"/>
<polyline points="26.50,242.60 55.50,243.00 84.50,249.80 113.50,242.10 142.50,242.00 171.50,241.50 200.50,242.00 229.50,243.60 258.50,247.20 287.50,245.50 316.50,244.00" fill="none" stroke="#3d3df2" stroke-width="0.62" stroke-dasharray="4.3,2.2"/>
<polyline points="26.50,238.30 55.50,228.20 84.50,234.50 113.50,220.50 142.50,227.80 171.50,218.00 200.50,235.20 229.50,243.00 258.50,233.40 287.50,235.10 316.50,228.40" fill="none" stroke="#3d3df2" stroke-width="0.62" stroke-dasharray="4.3,2.2"/>
<rect x="25.25" y="229.45" width="2.5" height="2.5" fill="#ff0000" stroke="#500000" stroke-width="0.45"/>
<rect x="54.25" y="230.95" width="2.5" height="2.5" fill="#ff0000" stroke="#500000" stroke-width="0.45"/>
<rect x="83.25" y="229.85" width="2.5" height="2.5" fill="#ff0000" stroke="#500000" stroke-width="0.45"/>
<rect x="112.25" y="230.75" width="2.5" height="2.5" fill="#ff0000" stroke="#500000" stroke-width="0.45"/>
<rect x="141.25" y="229.85" width="2.5" height="2.5" fill="#ff0000" stroke="#500000" stroke-width="0.45"/>
<rect x="170.25" y="232.25" width="2.5" height="2.5" fill="#ff0000" stroke="#500000" stroke-width="0.45"/>
<rect x="199.25" y="235.75" width="2.5" height="2.5" fill="#ff0000" stroke="#500000" stroke-width="0.45"/>
<rect x="228.25" y="226.75" width="2.5" height="2.5" fill="#ff0000" stroke="#500000" stroke-width="0.45"/>
<rect x="257.25" y="210.75" width="2.5" height="2.5" fill="#ff0000" stroke="#500000" stroke-width="0.45"/>
<rect x="286.25" y="216.15" width="2.5" height="2.5" fill="#ff0000" stroke="#500000" stroke-width="0.45"/>
<rect x="315.25" y="231.35" width="2.5" height="2.5" fill="#ff0000" stroke="#500000" stroke-width="0.45"/>
<path d="M24.90,245.70h3.2l-1.6,-2.7z" fill="#ff0000" stroke="#500000" stroke-width="0.4"/>
<path d="M53.90,245.70h3.2l-1.6,-2.7z" fill="#ff0000" stroke="#500000" stroke-width="0.4"/>
<path d="M82.90,241.90h3.2l-1.6,-2.7z" fill="#ff0000" stroke="#500000" stroke-width="0.4"/>
<path d="M111.90,248.00h3.2l-1.6,-2.7z" fill="#ff0000" stroke="#500000" stroke-width="0.4"/>
<path d="M140.90,243.50h3.2l-1.6,-2.7z" fill="#ff0000" stroke="#500000" stroke-width="0.4"/>
<path d="M169.90,246.20h3.2l-1.6,-2.7z" fill="#ff0000" stroke="#500000" stroke-width="0.4"/>
<path d="M198.90,249.30h3.2l-1.6,-2.7z" fill="#ff0000" stroke="#500000" stroke-width="0.4"/>
<path d="M227.90,244.70h3.2l-1.6,-2.7z" fill="#ff0000" stroke="#500000" stroke-width="0.4"/>
<path d="M256.90,228.80h3.2l-1.6,-2.7z" fill="#ff0000" stroke="#500000" stroke-width="0.4"/>
<path d="M285.90,231.40h3.2l-1.6,-2.7z" fill="#ff0000" stroke="#500000" stroke-width="0.4"/>
<path d="M314.90,241.30h3.2l-1.6,-2.7z" fill="#ff0000" stroke="#500000" stroke-width="0.4"/>
<rect x="25.25" y="217.15" width="2.5" height="2.5" fill="#ff0000" stroke="#500000" stroke-width="0.45"/>
<rect x="54.25" y="219.05" width="2.5" height="2.5" fill="#ff0000" stroke="#500000" stroke-width="0.45"/>
<rect x="83.25" y="199.65" width="2.5" height="2.5" fill="#ff0000" stroke="#500000" stroke-width="0.45"/>
<rect x="112.25" y="219.25" width="2.5" height="2.5" fill="#ff0000" stroke="#500000" stroke-width="0.45"/>
<rect x="141.25" y="240.85" width="2.5" height="2.5" fill="#ff0000" stroke="#500000" stroke-width="0.45"/>
<rect x="170.25" y="228.15" width="2.5" height="2.5" fill="#ff0000" stroke="#500000" stroke-width="0.45"/>
<rect x="199.25" y="223.55" width="2.5" height="2.5" fill="#ff0000" stroke="#500000" stroke-width="0.45"/>
<rect x="228.25" y="210.65" width="2.5" height="2.5" fill="#ff0000" stroke="#500000" stroke-width="0.45"/>
<rect x="257.25" y="210.65" width="2.5" height="2.5" fill="#ff0000" stroke="#500000" stroke-width="0.45"/>
<rect x="286.25" y="216.15" width="2.5" height="2.5" fill="#ff0000" stroke="#500000" stroke-width="0.45"/>
<rect x="315.25" y="227.75" width="2.5" height="2.5" fill="#ff0000" stroke="#500000" stroke-width="0.45"/>
<path d="M24.90,234.80h3.2l-1.6,-2.7z" fill="#ff0000" stroke="#500000" stroke-width="0.4"/>
<path d="M53.90,240.90h3.2l-1.6,-2.7z" fill="#ff0000" stroke="#500000" stroke-width="0.4"/>
<path d="M82.90,222.10h3.2l-1.6,-2.7z" fill="#ff0000" stroke="#500000" stroke-width="0.4"/>
<path d="M111.90,235.80h3.2l-1.6,-2.7z" fill="#ff0000" stroke="#500000" stroke-width="0.4"/>
<path d="M140.90,243.40h3.2l-1.6,-2.7z" fill="#ff0000" stroke="#500000" stroke-width="0.4"/>
<path d="M169.90,240.20h3.2l-1.6,-2.7z" fill="#ff0000" stroke="#500000" stroke-width="0.4"/>
<path d="M198.90,240.50h3.2l-1.6,-2.7z" fill="#ff0000" stroke="#500000" stroke-width="0.4"/>
<path d="M227.90,229.60h3.2l-1.6,-2.7z" fill="#ff0000" stroke="#500000" stroke-width="0.4"/>
<path d="M256.90,227.10h3.2l-1.6,-2.7z" fill="#ff0000" stroke="#500000" stroke-width="0.4"/>
<path d="M285.90,231.40h3.2l-1.6,-2.7z" fill="#ff0000" stroke="#500000" stroke-width="0.4"/>
<path d="M314.90,242.30h3.2l-1.6,-2.7z" fill="#ff0000" stroke="#500000" stroke-width="0.4"/>
<circle cx="26.50" cy="241.70" r="1.35" fill="#0000ee" stroke="#000040" stroke-width="0.35"/>
<circle cx="55.50" cy="241.50" r="1.35" fill="#0000ee" stroke="#000040" stroke-width="0.35"/>
<circle cx="84.50" cy="240.60" r="1.35" fill="#0000ee" stroke="#000040" stroke-width="0.35"/>
<circle cx="113.50" cy="241.50" r="1.35" fill="#0000ee" stroke="#000040" stroke-width="0.35"/>
<circle cx="142.50" cy="241.60" r="1.35" fill="#0000ee" stroke="#000040" stroke-width="0.35"/>
<circle cx="171.50" cy="240.80" r="1.35" fill="#0000ee" stroke="#000040" stroke-width="0.35"/>
<circle cx="200.50" cy="241.00" r="1.35" fill="#0000ee" stroke="#000040" stroke-width="0.35"/>
<circle cx="229.50" cy="243.20" r="1.35" fill="#0000ee" stroke="#000040" stroke-width="0.35"/>
<circle cx="258.50" cy="247.20" r="1.35" fill="#0000ee" stroke="#000040" stroke-width="0.35"/>
<circle cx="287.50" cy="245.50" r="1.35" fill="#0000ee" stroke="#000040" stroke-width="0.35"/>
<circle cx="316.50" cy="243.40" r="1.35" fill="#0000ee" stroke="#000040" stroke-width="0.35"/>
<path d="M24.90,225.60h3.2l-1.6,2.7z" fill="#0000ee" stroke="#000040" stroke-width="0.35"/>
<path d="M53.90,225.60h3.2l-1.6,2.7z" fill="#0000ee" stroke="#000040" stroke-width="0.35"/>
<path d="M82.90,225.00h3.2l-1.6,2.7z" fill="#0000ee" stroke="#000040" stroke-width="0.35"/>
<path d="M111.90,225.30h3.2l-1.6,2.7z" fill="#0000ee" stroke="#000040" stroke-width="0.35"/>
<path d="M140.90,222.70h3.2l-1.6,2.7z" fill="#0000ee" stroke="#000040" stroke-width="0.35"/>
<path d="M169.90,223.70h3.2l-1.6,2.7z" fill="#0000ee" stroke="#000040" stroke-width="0.35"/>
<path d="M198.90,220.10h3.2l-1.6,2.7z" fill="#0000ee" stroke="#000040" stroke-width="0.35"/>
<path d="M227.90,227.50h3.2l-1.6,2.7z" fill="#0000ee" stroke="#000040" stroke-width="0.35"/>
<path d="M256.90,237.90h3.2l-1.6,2.7z" fill="#0000ee" stroke="#000040" stroke-width="0.35"/>
<path d="M285.90,233.80h3.2l-1.6,2.7z" fill="#0000ee" stroke="#000040" stroke-width="0.35"/>
<path d="M314.90,222.40h3.2l-1.6,2.7z" fill="#0000ee" stroke="#000040" stroke-width="0.35"/>
<circle cx="26.50" cy="242.60" r="1.35" fill="#0000ee" stroke="#000040" stroke-width="0.35"/>
<circle cx="55.50" cy="243.00" r="1.35" fill="#0000ee" stroke="#000040" stroke-width="0.35"/>
<circle cx="84.50" cy="249.80" r="1.35" fill="#0000ee" stroke="#000040" stroke-width="0.35"/>
<circle cx="113.50" cy="242.10" r="1.35" fill="#0000ee" stroke="#000040" stroke-width="0.35"/>
<circle cx="142.50" cy="242.00" r="1.35" fill="#0000ee" stroke="#000040" stroke-width="0.35"/>
<circle cx="171.50" cy="241.50" r="1.35" fill="#0000ee" stroke="#000040" stroke-width="0.35"/>
<circle cx="200.50" cy="242.00" r="1.35" fill="#0000ee" stroke="#000040" stroke-width="0.35"/>
<circle cx="229.50" cy="243.60" r="1.35" fill="#0000ee" stroke="#000040" stroke-width="0.35"/>
<circle cx="258.50" cy="247.20" r="1.35" fill="#0000ee" stroke="#000040" stroke-width="0.35"/>
<circle cx="287.50" cy="245.50" r="1.35" fill="#0000ee" stroke="#000040" stroke-width="0.35"/>
<circle cx="316.50" cy="244.00" r="1.35" fill="#0000ee" stroke="#000040" stroke-width="0.35"/>
<path d="M24.90,237.00h3.2l-1.6,2.7z" fill="#0000ee" stroke="#000040" stroke-width="0.35"/>
<path d="M53.90,226.90h3.2l-1.6,2.7z" fill="#0000ee" stroke="#000040" stroke-width="0.35"/>
<path d="M82.90,233.20h3.2l-1.6,2.7z" fill="#0000ee" stroke="#000040" stroke-width="0.35"/>
<path d="M111.90,219.20h3.2l-1.6,2.7z" fill="#0000ee" stroke="#000040" stroke-width="0.35"/>
<path d="M140.90,226.50h3.2l-1.6,2.7z" fill="#0000ee" stroke="#000040" stroke-width="0.35"/>
<path d="M169.90,216.70h3.2l-1.6,2.7z" fill="#0000ee" stroke="#000040" stroke-width="0.35"/>
<path d="M198.90,233.90h3.2l-1.6,2.7z" fill="#0000ee" stroke="#000040" stroke-width="0.35"/>
<path d="M227.90,241.70h3.2l-1.6,2.7z" fill="#0000ee" stroke="#000040" stroke-width="0.35"/>
<path d="M256.90,232.10h3.2l-1.6,2.7z" fill="#0000ee" stroke="#000040" stroke-width="0.35"/>
<path d="M285.90,233.80h3.2l-1.6,2.7z" fill="#0000ee" stroke="#000040" stroke-width="0.35"/>
<path d="M314.90,227.10h3.2l-1.6,2.7z" fill="#0000ee" stroke="#000040" stroke-width="0.35"/>
<line x1="372.0" y1="190.5" x2="662.5" y2="190.5" stroke="#5a5a5a" stroke-width="1.1"/>
<line x1="372.0" y1="255.5" x2="662.5" y2="255.5" stroke="#5a5a5a" stroke-width="1.1"/>
<line x1="401.05" y1="255.5" x2="401.05" y2="252.5" stroke="#3c3c3c" stroke-width="0.9"/>
<line x1="401.05" y1="190.5" x2="401.05" y2="193.5" stroke="#3c3c3c" stroke-width="0.9"/>
<line x1="430.10" y1="255.5" x2="430.10" y2="252.5" stroke="#3c3c3c" stroke-width="0.9"/>
<line x1="430.10" y1="190.5" x2="430.10" y2="193.5" stroke="#3c3c3c" stroke-width="0.9"/>
<line x1="459.15" y1="255.5" x2="459.15" y2="252.5" stroke="#3c3c3c" stroke-width="0.9"/>
<line x1="459.15" y1="190.5" x2="459.15" y2="193.5" stroke="#3c3c3c" stroke-width="0.9"/>
<line x1="488.20" y1="255.5" x2="488.20" y2="252.5" stroke="#3c3c3c" stroke-width="0.9"/>
<line x1="488.20" y1="190.5" x2="488.20" y2="193.5" stroke="#3c3c3c" stroke-width="0.9"/>
<line x1="517.25" y1="255.5" x2="517.25" y2="252.5" stroke="#3c3c3c" stroke-width="0.9"/>
<line x1="517.25" y1="190.5" x2="517.25" y2="193.5" stroke="#3c3c3c" stroke-width="0.9"/>
<line x1="546.30" y1="255.5" x2="546.30" y2="252.5" stroke="#3c3c3c" stroke-width="0.9"/>
<line x1="546.30" y1="190.5" x2="546.30" y2="193.5" stroke="#3c3c3c" stroke-width="0.9"/>
<line x1="575.35" y1="255.5" x2="575.35" y2="252.5" stroke="#3c3c3c" stroke-width="0.9"/>
<line x1="575.35" y1="190.5" x2="575.35" y2="193.5" stroke="#3c3c3c" stroke-width="0.9"/>
<line x1="604.40" y1="255.5" x2="604.40" y2="252.5" stroke="#3c3c3c" stroke-width="0.9"/>
<line x1="604.40" y1="190.5" x2="604.40" y2="193.5" stroke="#3c3c3c" stroke-width="0.9"/>
<line x1="633.45" y1="255.5" x2="633.45" y2="252.5" stroke="#3c3c3c" stroke-width="0.9"/>
<line x1="633.45" y1="190.5" x2="633.45" y2="193.5" stroke="#3c3c3c" stroke-width="0.9"/>
<line x1="372.0" y1="190.5" x2="372.0" y2="255.5" stroke="#3535f0" stroke-width="1"/>
<line x1="372.0" y1="255.50" x2="375.0" y2="255.50" stroke="#3535f0" stroke-width="1"/>
<text x="368.8" y="258.90" text-anchor="end" class="tl" fill="#1a1aff" stroke="#1a1aff">0.0</text>
<line x1="372.0" y1="244.67" x2="375.0" y2="244.67" stroke="#3535f0" stroke-width="1"/>
<text x="368.8" y="248.07" text-anchor="end" class="tl" fill="#1a1aff" stroke="#1a1aff">0.5</text>
<line x1="372.0" y1="233.83" x2="375.0" y2="233.83" stroke="#3535f0" stroke-width="1"/>
<text x="368.8" y="237.23" text-anchor="end" class="tl" fill="#1a1aff" stroke="#1a1aff">1.0</text>
<line x1="372.0" y1="223.00" x2="375.0" y2="223.00" stroke="#3535f0" stroke-width="1"/>
<text x="368.8" y="226.40" text-anchor="end" class="tl" fill="#1a1aff" stroke="#1a1aff">1.5</text>
<line x1="372.0" y1="212.17" x2="375.0" y2="212.17" stroke="#3535f0" stroke-width="1"/>
<text x="368.8" y="215.57" text-anchor="end" class="tl" fill="#1a1aff" stroke="#1a1aff">2.0</text>
<line x1="372.0" y1="201.33" x2="375.0" y2="201.33" stroke="#3535f0" stroke-width="1"/>
<text x="368.8" y="204.73" text-anchor="end" class="tl" fill="#1a1aff" stroke="#1a1aff">2.5</text>
<line x1="372.0" y1="190.50" x2="375.0" y2="190.50" stroke="#3535f0" stroke-width="1"/>
<text x="368.8" y="193.90" text-anchor="end" class="tl" fill="#1a1aff" stroke="#1a1aff">3.0</text>
<line x1="662.5" y1="190.5" x2="662.5" y2="255.5" stroke="#e83030" stroke-width="1"/>
<line x1="662.5" y1="255.50" x2="659.5" y2="255.50" stroke="#e83030" stroke-width="1"/>
<text x="666.1" y="258.90" class="tl" fill="#ee1111" stroke="#ee1111">0</text>
<line x1="662.5" y1="233.83" x2="659.5" y2="233.83" stroke="#e83030" stroke-width="1"/>
<text x="666.1" y="237.23" class="tl" fill="#ee1111" stroke="#ee1111">4</text>
<line x1="662.5" y1="212.17" x2="659.5" y2="212.17" stroke="#e83030" stroke-width="1"/>
<text x="666.1" y="215.57" class="tl" fill="#ee1111" stroke="#ee1111">8</text>
<line x1="662.5" y1="190.50" x2="659.5" y2="190.50" stroke="#e83030" stroke-width="1"/>
<text x="666.1" y="193.90" class="tl" fill="#ee1111" stroke="#ee1111">12</text>
<text x="372.00" y="267.30" text-anchor="middle" class="xl">CR</text>
<text x="401.05" y="267.30" text-anchor="middle" class="xl">FD</text>
<text x="430.10" y="267.30" text-anchor="middle" class="xl">SNV</text>
<text x="459.15" y="267.30" text-anchor="middle" class="xl">L<tspan font-size="7" dx="0.4" dy="3.2">3</tspan></text>
<text x="488.20" y="267.30" text-anchor="middle" class="xl">L<tspan font-size="7" dx="0.4" dy="3.2">4</tspan></text>
<text x="517.25" y="267.30" text-anchor="middle" class="xl">L<tspan font-size="7" dx="0.4" dy="3.2">5</tspan></text>
<text x="546.30" y="267.30" text-anchor="middle" class="xl">L<tspan font-size="7" dx="0.4" dy="3.2">6</tspan></text>
<text x="575.35" y="267.30" text-anchor="middle" class="xl">L<tspan font-size="7" dx="0.4" dy="3.2">7</tspan></text>
<text x="604.40" y="267.30" text-anchor="middle" class="xl">L<tspan font-size="7" dx="0.4" dy="3.2">8</tspan></text>
<text x="633.45" y="267.30" text-anchor="middle" class="xl">L<tspan font-size="7" dx="0.4" dy="3.2">9</tspan></text>
<text x="662.50" y="267.30" text-anchor="middle" class="xl">L<tspan font-size="7" dx="0.4" dy="3.2">all</tspan></text>
<text x="647.50" y="200.20" text-anchor="middle" class="tag">(f)</text>
<polyline points="372.00,222.70 401.05,232.80 430.10,212.30 459.15,226.50 488.20,229.70 517.25,230.20 546.30,229.20 575.35,229.80 604.40,223.10 633.45,213.10 662.50,233.50" fill="none" stroke="#e03a3a" stroke-width="0.62"/>
<polyline points="372.00,236.50 401.05,238.20 430.10,231.30 459.15,236.40 488.20,236.80 517.25,238.90 546.30,237.70 575.35,237.30 604.40,231.60 633.45,228.00 662.50,239.60" fill="none" stroke="#e03a3a" stroke-width="0.62"/>
<polyline points="372.00,218.70 401.05,216.60 430.10,206.60 459.15,218.40 488.20,219.90 517.25,223.10 546.30,228.80 575.35,216.40 604.40,217.60 633.45,205.20 662.50,224.40" fill="none" stroke="#e03a3a" stroke-width="0.62" stroke-dasharray="4.3,2.2"/>
<polyline points="372.00,222.70 401.05,223.90 430.10,218.00 459.15,225.00 488.20,227.80 517.25,230.70 546.30,233.00 575.35,223.80 604.40,251.40 633.45,217.10 662.50,228.80" fill="none" stroke="#e03a3a" stroke-width="0.62" stroke-dasharray="4.3,2.2"/>
<polyline points="372.00,239.80 401.05,236.50 430.10,242.10 459.15,237.70 488.20,239.60 517.25,237.00 546.30,237.70 575.35,237.30 604.40,237.30 633.45,241.70 662.50,236.40" fill="none" stroke="#3d3df2" stroke-width="0.62"/>
<polyline points="372.00,218.70 401.05,202.60 430.10,222.70 459.15,210.80 488.20,203.20 517.25,203.20 546.30,206.40 575.35,205.70 604.40,219.10 633.45,222.40 662.50,200.30" fill="none" stroke="#3d3df2" stroke-width="0.62"/>
<polyline points="372.00,240.30 401.05,241.30 430.10,244.50 459.15,239.60 488.20,239.60 517.25,239.60 546.30,238.50 575.35,241.70 604.40,243.50 633.45,243.50 662.50,237.70" fill="none" stroke="#3d3df2" stroke-width="0.62" stroke-dasharray="4.3,2.2"/>
<polyline points="372.00,220.20 401.05,221.80 430.10,227.50 459.15,215.10 488.20,216.10 517.25,216.50 546.30,206.40 575.35,222.40 604.40,231.60 633.45,225.60 662.50,217.40" fill="none" stroke="#3d3df2" stroke-width="0.62" stroke-dasharray="4.3,2.2"/>
<rect x="370.75" y="221.45" width="2.5" height="2.5" fill="#ff0000" stroke="#500000" stroke-width="0.45"/>
<rect x="399.80" y="231.55" width="2.5" height="2.5" fill="#ff0000" stroke="#500000" stroke-width="0.45"/>
<rect x="428.85" y="211.05" width="2.5" height="2.5" fill="#ff0000" stroke="#500000" stroke-width="0.45"/>
<rect x="457.90" y="225.25" width="2.5" height="2.5" fill="#ff0000" stroke="#500000" stroke-width="0.45"/>
<rect x="486.95" y="228.45" width="2.5" height="2.5" fill="#ff0000" stroke="#500000" stroke-width="0.45"/>
<rect x="516.00" y="228.95" width="2.5" height="2.5" fill="#ff0000" stroke="#500000" stroke-width="0.45"/>
<rect x="545.05" y="227.95" width="2.5" height="2.5" fill="#ff0000" stroke="#500000" stroke-width="0.45"/>
<rect x="574.10" y="228.55" width="2.5" height="2.5" fill="#ff0000" stroke="#500000" stroke-width="0.45"/>
<rect x="603.15" y="221.85" width="2.5" height="2.5" fill="#ff0000" stroke="#500000" stroke-width="0.45"/>
<rect x="632.20" y="211.85" width="2.5" height="2.5" fill="#ff0000" stroke="#500000" stroke-width="0.45"/>
<rect x="661.25" y="232.25" width="2.5" height="2.5" fill="#ff0000" stroke="#500000" stroke-width="0.45"/>
<path d="M370.40,237.80h3.2l-1.6,-2.7z" fill="#ff0000" stroke="#500000" stroke-width="0.4"/>
<path d="M399.45,239.50h3.2l-1.6,-2.7z" fill="#ff0000" stroke="#500000" stroke-width="0.4"/>
<path d="M428.50,232.60h3.2l-1.6,-2.7z" fill="#ff0000" stroke="#500000" stroke-width="0.4"/>
<path d="M457.55,237.70h3.2l-1.6,-2.7z" fill="#ff0000" stroke="#500000" stroke-width="0.4"/>
<path d="M486.60,238.10h3.2l-1.6,-2.7z" fill="#ff0000" stroke="#500000" stroke-width="0.4"/>
<path d="M515.65,240.20h3.2l-1.6,-2.7z" fill="#ff0000" stroke="#500000" stroke-width="0.4"/>
<path d="M544.70,239.00h3.2l-1.6,-2.7z" fill="#ff0000" stroke="#500000" stroke-width="0.4"/>
<path d="M573.75,238.60h3.2l-1.6,-2.7z" fill="#ff0000" stroke="#500000" stroke-width="0.4"/>
<path d="M602.80,232.90h3.2l-1.6,-2.7z" fill="#ff0000" stroke="#500000" stroke-width="0.4"/>
<path d="M631.85,229.30h3.2l-1.6,-2.7z" fill="#ff0000" stroke="#500000" stroke-width="0.4"/>
<path d="M660.90,240.90h3.2l-1.6,-2.7z" fill="#ff0000" stroke="#500000" stroke-width="0.4"/>
<rect x="370.75" y="217.45" width="2.5" height="2.5" fill="#ff0000" stroke="#500000" stroke-width="0.45"/>
<rect x="399.80" y="215.35" width="2.5" height="2.5" fill="#ff0000" stroke="#500000" stroke-width="0.45"/>
<rect x="428.85" y="205.35" width="2.5" height="2.5" fill="#ff0000" stroke="#500000" stroke-width="0.45"/>
<rect x="457.90" y="217.15" width="2.5" height="2.5" fill="#ff0000" stroke="#500000" stroke-width="0.45"/>
<rect x="486.95" y="218.65" width="2.5" height="2.5" fill="#ff0000" stroke="#500000" stroke-width="0.45"/>
<rect x="516.00" y="221.85" width="2.5" height="2.5" fill="#ff0000" stroke="#500000" stroke-width="0.45"/>
<rect x="545.05" y="227.55" width="2.5" height="2.5" fill="#ff0000" stroke="#500000" stroke-width="0.45"/>
<rect x="574.10" y="215.15" width="2.5" height="2.5" fill="#ff0000" stroke="#500000" stroke-width="0.45"/>
<rect x="603.15" y="216.35" width="2.5" height="2.5" fill="#ff0000" stroke="#500000" stroke-width="0.45"/>
<rect x="632.20" y="203.95" width="2.5" height="2.5" fill="#ff0000" stroke="#500000" stroke-width="0.45"/>
<rect x="661.25" y="223.15" width="2.5" height="2.5" fill="#ff0000" stroke="#500000" stroke-width="0.45"/>
<path d="M370.40,224.00h3.2l-1.6,-2.7z" fill="#ff0000" stroke="#500000" stroke-width="0.4"/>
<path d="M399.45,225.20h3.2l-1.6,-2.7z" fill="#ff0000" stroke="#500000" stroke-width="0.4"/>
<path d="M428.50,219.30h3.2l-1.6,-2.7z" fill="#ff0000" stroke="#500000" stroke-width="0.4"/>
<path d="M457.55,226.30h3.2l-1.6,-2.7z" fill="#ff0000" stroke="#500000" stroke-width="0.4"/>
<path d="M486.60,229.10h3.2l-1.6,-2.7z" fill="#ff0000" stroke="#500000" stroke-width="0.4"/>
<path d="M515.65,232.00h3.2l-1.6,-2.7z" fill="#ff0000" stroke="#500000" stroke-width="0.4"/>
<path d="M544.70,234.30h3.2l-1.6,-2.7z" fill="#ff0000" stroke="#500000" stroke-width="0.4"/>
<path d="M573.75,225.10h3.2l-1.6,-2.7z" fill="#ff0000" stroke="#500000" stroke-width="0.4"/>
<path d="M602.80,252.70h3.2l-1.6,-2.7z" fill="#ff0000" stroke="#500000" stroke-width="0.4"/>
<path d="M631.85,218.40h3.2l-1.6,-2.7z" fill="#ff0000" stroke="#500000" stroke-width="0.4"/>
<path d="M660.90,230.10h3.2l-1.6,-2.7z" fill="#ff0000" stroke="#500000" stroke-width="0.4"/>
<circle cx="372.00" cy="239.80" r="1.35" fill="#0000ee" stroke="#000040" stroke-width="0.35"/>
<circle cx="401.05" cy="236.50" r="1.35" fill="#0000ee" stroke="#000040" stroke-width="0.35"/>
<circle cx="430.10" cy="242.10" r="1.35" fill="#0000ee" stroke="#000040" stroke-width="0.35"/>
<circle cx="459.15" cy="237.70" r="1.35" fill="#0000ee" stroke="#000040" stroke-width="0.35"/>
<circle cx="488.20" cy="239.60" r="1.35" fill="#0000ee" stroke="#000040" stroke-width="0.35"/>
<circle cx="517.25" cy="237.00" r="1.35" fill="#0000ee" stroke="#000040" stroke-width="0.35"/>
<circle cx="546.30" cy="237.70" r="1.35" fill="#0000ee" stroke="#000040" stroke-width="0.35"/>
<circle cx="575.35" cy="237.30" r="1.35" fill="#0000ee" stroke="#000040" stroke-width="0.35"/>
<circle cx="604.40" cy="237.30" r="1.35" fill="#0000ee" stroke="#000040" stroke-width="0.35"/>
<circle cx="633.45" cy="241.70" r="1.35" fill="#0000ee" stroke="#000040" stroke-width="0.35"/>
<circle cx="662.50" cy="236.40" r="1.35" fill="#0000ee" stroke="#000040" stroke-width="0.35"/>
<path d="M370.40,217.40h3.2l-1.6,2.7z" fill="#0000ee" stroke="#000040" stroke-width="0.35"/>
<path d="M399.45,201.30h3.2l-1.6,2.7z" fill="#0000ee" stroke="#000040" stroke-width="0.35"/>
<path d="M428.50,221.40h3.2l-1.6,2.7z" fill="#0000ee" stroke="#000040" stroke-width="0.35"/>
<path d="M457.55,209.50h3.2l-1.6,2.7z" fill="#0000ee" stroke="#000040" stroke-width="0.35"/>
<path d="M486.60,201.90h3.2l-1.6,2.7z" fill="#0000ee" stroke="#000040" stroke-width="0.35"/>
<path d="M515.65,201.90h3.2l-1.6,2.7z" fill="#0000ee" stroke="#000040" stroke-width="0.35"/>
<path d="M544.70,205.10h3.2l-1.6,2.7z" fill="#0000ee" stroke="#000040" stroke-width="0.35"/>
<path d="M573.75,204.40h3.2l-1.6,2.7z" fill="#0000ee" stroke="#000040" stroke-width="0.35"/>
<path d="M602.80,217.80h3.2l-1.6,2.7z" fill="#0000ee" stroke="#000040" stroke-width="0.35"/>
<path d="M631.85,221.10h3.2l-1.6,2.7z" fill="#0000ee" stroke="#000040" stroke-width="0.35"/>
<path d="M660.90,199.00h3.2l-1.6,2.7z" fill="#0000ee" stroke="#000040" stroke-width="0.35"/>
<circle cx="372.00" cy="240.30" r="1.35" fill="#0000ee" stroke="#000040" stroke-width="0.35"/>
<circle cx="401.05" cy="241.30" r="1.35" fill="#0000ee" stroke="#000040" stroke-width="0.35"/>
<circle cx="430.10" cy="244.50" r="1.35" fill="#0000ee" stroke="#000040" stroke-width="0.35"/>
<circle cx="459.15" cy="239.60" r="1.35" fill="#0000ee" stroke="#000040" stroke-width="0.35"/>
<circle cx="488.20" cy="239.60" r="1.35" fill="#0000ee" stroke="#000040" stroke-width="0.35"/>
<circle cx="517.25" cy="239.60" r="1.35" fill="#0000ee" stroke="#000040" stroke-width="0.35"/>
<circle cx="546.30" cy="238.50" r="1.35" fill="#0000ee" stroke="#000040" stroke-width="0.35"/>
<circle cx="575.35" cy="241.70" r="1.35" fill="#0000ee" stroke="#000040" stroke-width="0.35"/>
<circle cx="604.40" cy="243.50" r="1.35" fill="#0000ee" stroke="#000040" stroke-width="0.35"/>
<circle cx="633.45" cy="243.50" r="1.35" fill="#0000ee" stroke="#000040" stroke-width="0.35"/>
<circle cx="662.50" cy="237.70" r="1.35" fill="#0000ee" stroke="#000040" stroke-width="0.35"/>
<path d="M370.40,218.90h3.2l-1.6,2.7z" fill="#0000ee" stroke="#000040" stroke-width="0.35"/>
<path d="M399.45,220.50h3.2l-1.6,2.7z" fill="#0000ee" stroke="#000040" stroke-width="0.35"/>
<path d="M428.50,226.20h3.2l-1.6,2.7z" fill="#0000ee" stroke="#000040" stroke-width="0.35"/>
<path d="M457.55,213.80h3.2l-1.6,2.7z" fill="#0000ee" stroke="#000040" stroke-width="0.35"/>
<path d="M486.60,214.80h3.2l-1.6,2.7z" fill="#0000ee" stroke="#000040" stroke-width="0.35"/>
<path d="M515.65,215.20h3.2l-1.6,2.7z" fill="#0000ee" stroke="#000040" stroke-width="0.35"/>
<path d="M544.70,205.10h3.2l-1.6,2.7z" fill="#0000ee" stroke="#000040" stroke-width="0.35"/>
<path d="M573.75,221.10h3.2l-1.6,2.7z" fill="#0000ee" stroke="#000040" stroke-width="0.35"/>
<path d="M602.80,230.30h3.2l-1.6,2.7z" fill="#0000ee" stroke="#000040" stroke-width="0.35"/>
<path d="M631.85,224.30h3.2l-1.6,2.7z" fill="#0000ee" stroke="#000040" stroke-width="0.35"/>
<path d="M660.90,216.10h3.2l-1.6,2.7z" fill="#0000ee" stroke="#000040" stroke-width="0.35"/>
<line x1="26.5" y1="275.5" x2="316.5" y2="275.5" stroke="#5a5a5a" stroke-width="1.1"/>
<line x1="26.5" y1="340.5" x2="316.5" y2="340.5" stroke="#5a5a5a" stroke-width="1.1"/>
<line x1="67.93" y1="340.5" x2="67.93" y2="337.5" stroke="#3c3c3c" stroke-width="0.9"/>
<line x1="67.93" y1="275.5" x2="67.93" y2="278.5" stroke="#3c3c3c" stroke-width="0.9"/>
<line x1="109.36" y1="340.5" x2="109.36" y2="337.5" stroke="#3c3c3c" stroke-width="0.9"/>
<line x1="109.36" y1="275.5" x2="109.36" y2="278.5" stroke="#3c3c3c" stroke-width="0.9"/>
<line x1="150.79" y1="340.5" x2="150.79" y2="337.5" stroke="#3c3c3c" stroke-width="0.9"/>
<line x1="150.79" y1="275.5" x2="150.79" y2="278.5" stroke="#3c3c3c" stroke-width="0.9"/>
<line x1="192.21" y1="340.5" x2="192.21" y2="337.5" stroke="#3c3c3c" stroke-width="0.9"/>
<line x1="192.21" y1="275.5" x2="192.21" y2="278.5" stroke="#3c3c3c" stroke-width="0.9"/>
<line x1="233.64" y1="340.5" x2="233.64" y2="337.5" stroke="#3c3c3c" stroke-width="0.9"/>
<line x1="233.64" y1="275.5" x2="233.64" y2="278.5" stroke="#3c3c3c" stroke-width="0.9"/>
<line x1="275.07" y1="340.5" x2="275.07" y2="337.5" stroke="#3c3c3c" stroke-width="0.9"/>
<line x1="275.07" y1="275.5" x2="275.07" y2="278.5" stroke="#3c3c3c" stroke-width="0.9"/>
<line x1="26.5" y1="275.5" x2="26.5" y2="340.5" stroke="#3535f0" stroke-width="1"/>
<line x1="26.5" y1="340.50" x2="29.5" y2="340.50" stroke="#3535f0" stroke-width="1"/>
<text x="23.3" y="343.90" text-anchor="end" class="tl" fill="#1a1aff" stroke="#1a1aff">0.0</text>
<line x1="26.5" y1="329.67" x2="29.5" y2="329.67" stroke="#3535f0" stroke-width="1"/>
<text x="23.3" y="333.07" text-anchor="end" class="tl" fill="#1a1aff" stroke="#1a1aff">1.0</text>
<line x1="26.5" y1="318.83" x2="29.5" y2="318.83" stroke="#3535f0" stroke-width="1"/>
<text x="23.3" y="322.23" text-anchor="end" class="tl" fill="#1a1aff" stroke="#1a1aff">2.0</text>
<line x1="26.5" y1="308.00" x2="29.5" y2="308.00" stroke="#3535f0" stroke-width="1"/>
<text x="23.3" y="311.40" text-anchor="end" class="tl" fill="#1a1aff" stroke="#1a1aff">3.0</text>
<line x1="26.5" y1="297.17" x2="29.5" y2="297.17" stroke="#3535f0" stroke-width="1"/>
<text x="23.3" y="300.57" text-anchor="end" class="tl" fill="#1a1aff" stroke="#1a1aff">4.0</text>
<line x1="26.5" y1="286.33" x2="29.5" y2="286.33" stroke="#3535f0" stroke-width="1"/>
<text x="23.3" y="289.73" text-anchor="end" class="tl" fill="#1a1aff" stroke="#1a1aff">5.0</text>
<line x1="26.5" y1="275.50" x2="29.5" y2="275.50" stroke="#3535f0" stroke-width="1"/>
<text x="23.3" y="278.90" text-anchor="end" class="tl" fill="#1a1aff" stroke="#1a1aff">6.0</text>
<line x1="316.5" y1="275.5" x2="316.5" y2="340.5" stroke="#e83030" stroke-width="1"/>
<line x1="316.5" y1="340.50" x2="313.5" y2="340.50" stroke="#e83030" stroke-width="1"/>
<text x="320.1" y="343.90" class="tl" fill="#ee1111" stroke="#ee1111">0</text>
<line x1="316.5" y1="320.19" x2="313.5" y2="320.19" stroke="#e83030" stroke-width="1"/>
<text x="320.1" y="323.59" class="tl" fill="#ee1111" stroke="#ee1111">5</text>
<line x1="316.5" y1="299.88" x2="313.5" y2="299.88" stroke="#e83030" stroke-width="1"/>
<text x="320.1" y="303.27" class="tl" fill="#ee1111" stroke="#ee1111">10</text>
<line x1="316.5" y1="275.50" x2="313.5" y2="275.50" stroke="#e83030" stroke-width="1"/>
<text x="320.1" y="278.90" class="tl" fill="#ee1111" stroke="#ee1111">16</text>
<text x="26.50" y="352.30" text-anchor="middle" class="xl">CR</text>
<text x="67.93" y="352.30" text-anchor="middle" class="xl">FD</text>
<text x="109.36" y="352.30" text-anchor="middle" class="xl">SD</text>
<text x="150.79" y="352.30" text-anchor="middle" class="xl">L<tspan font-size="7" dx="0.4" dy="3.2">1</tspan></text>
<text x="192.21" y="352.30" text-anchor="middle" class="xl">L<tspan font-size="7" dx="0.4" dy="3.2">2</tspan></text>
<text x="233.64" y="352.30" text-anchor="middle" class="xl">L<tspan font-size="7" dx="0.4" dy="3.2">3</tspan></text>
<text x="275.07" y="352.30" text-anchor="middle" class="xl">L<tspan font-size="7" dx="0.4" dy="3.2">5</tspan></text>
<text x="316.50" y="352.30" text-anchor="middle" class="xl">L<tspan font-size="7" dx="0.4" dy="3.2">all</tspan></text>
<text x="303.55" y="285.70" text-anchor="middle" class="tag">(g)</text>
<polyline points="26.50,294.40 67.93,298.60 109.36,326.00 150.79,336.10 192.21,319.40 233.64,312.50 275.07,295.60 316.50,338.80" fill="none" stroke="#e03a3a" stroke-width="0.62"/>
<polyline points="26.50,302.00 67.93,304.30 109.36,327.00 150.79,336.50 192.21,324.20 233.64,317.50 275.07,309.80 316.50,339.20" fill="none" stroke="#e03a3a" stroke-width="0.62"/>
<polyline points="26.50,290.00 67.93,277.30 109.36,293.30 150.79,306.20 192.21,302.00 233.64,308.50 275.07,301.30 316.50,317.50" fill="none" stroke="#e03a3a" stroke-width="0.62" stroke-dasharray="4.3,2.2"/>
<polyline points="26.50,294.40 67.93,283.80 109.36,298.20 150.79,309.00 192.21,309.00 233.64,316.60 275.07,309.70 316.50,323.20" fill="none" stroke="#e03a3a" stroke-width="0.62" stroke-dasharray="4.3,2.2"/>
<polyline points="26.50,334.20 67.93,334.00 109.36,330.40 150.79,329.90 192.21,330.80 233.64,331.30 275.07,334.20 316.50,329.90" fill="none" stroke="#3d3df2" stroke-width="0.62"/>
<polyline points="26.50,328.50 67.93,328.00 109.36,294.80 150.79,287.60 192.21,307.10 233.64,317.50 275.07,328.50 316.50,283.00" fill="none" stroke="#3d3df2" stroke-width="0.62"/>
<polyline points="26.50,338.00 67.93,336.00 109.36,332.50 150.79,331.80 192.21,332.70 233.64,331.50 275.07,334.40 316.50,331.20" fill="none" stroke="#3d3df2" stroke-width="0.62" stroke-dasharray="4.3,2.2"/>
<polyline points="26.50,331.50 67.93,329.50 109.36,323.20 150.79,317.90 192.21,328.50 233.64,318.00 275.07,330.80 316.50,327.50" fill="none" stroke="#3d3df2" stroke-width="0.62" stroke-dasharray="4.3,2.2"/>
<rect x="25.25" y="293.15" width="2.5" height="2.5" fill="#ff0000" stroke="#500000" stroke-width="0.45"/>
<rect x="66.68" y="297.35" width="2.5" height="2.5" fill="#ff0000" stroke="#500000" stroke-width="0.45"/>
<rect x="108.11" y="324.75" width="2.5" height="2.5" fill="#ff0000" stroke="#500000" stroke-width="0.45"/>
<rect x="149.54" y="334.85" width="2.5" height="2.5" fill="#ff0000" stroke="#500000" stroke-width="0.45"/>
<rect x="190.96" y="318.15" width="2.5" height="2.5" fill="#ff0000" stroke="#500000" stroke-width="0.45"/>
<rect x="232.39" y="311.25" width="2.5" height="2.5" fill="#ff0000" stroke="#500000" stroke-width="0.45"/>
<rect x="273.82" y="294.35" width="2.5" height="2.5" fill="#ff0000" stroke="#500000" stroke-width="0.45"/>
<rect x="315.25" y="337.55" width="2.5" height="2.5" fill="#ff0000" stroke="#500000" stroke-width="0.45"/>
<path d="M24.90,303.30h3.2l-1.6,-2.7z" fill="#ff0000" stroke="#500000" stroke-width="0.4"/>
<path d="M66.33,305.60h3.2l-1.6,-2.7z" fill="#ff0000" stroke="#500000" stroke-width="0.4"/>
<path d="M107.76,328.30h3.2l-1.6,-2.7z" fill="#ff0000" stroke="#500000" stroke-width="0.4"/>
<path d="M149.19,337.80h3.2l-1.6,-2.7z" fill="#ff0000" stroke="#500000" stroke-width="0.4"/>
<path d="M190.61,325.50h3.2l-1.6,-2.7z" fill="#ff0000" stroke="#500000" stroke-width="0.4"/>
<path d="M232.04,318.80h3.2l-1.6,-2.7z" fill="#ff0000" stroke="#500000" stroke-width="0.4"/>
<path d="M273.47,311.10h3.2l-1.6,-2.7z" fill="#ff0000" stroke="#500000" stroke-width="0.4"/>
<path d="M314.90,340.50h3.2l-1.6,-2.7z" fill="#ff0000" stroke="#500000" stroke-width="0.4"/>
<rect x="25.25" y="288.75" width="2.5" height="2.5" fill="#ff0000" stroke="#500000" stroke-width="0.45"/>
<rect x="66.68" y="276.05" width="2.5" height="2.5" fill="#ff0000" stroke="#500000" stroke-width="0.45"/>
<rect x="108.11" y="292.05" width="2.5" height="2.5" fill="#ff0000" stroke="#500000" stroke-width="0.45"/>
<rect x="149.54" y="304.95" width="2.5" height="2.5" fill="#ff0000" stroke="#500000" stroke-width="0.45"/>
<rect x="190.96" y="300.75" width="2.5" height="2.5" fill="#ff0000" stroke="#500000" stroke-width="0.45"/>
<rect x="232.39" y="307.25" width="2.5" height="2.5" fill="#ff0000" stroke="#500000" stroke-width="0.45"/>
<rect x="273.82" y="300.05" width="2.5" height="2.5" fill="#ff0000" stroke="#500000" stroke-width="0.45"/>
<rect x="315.25" y="316.25" width="2.5" height="2.5" fill="#ff0000" stroke="#500000" stroke-width="0.45"/>
<path d="M24.90,295.70h3.2l-1.6,-2.7z" fill="#ff0000" stroke="#500000" stroke-width="0.4"/>
<path d="M66.33,285.10h3.2l-1.6,-2.7z" fill="#ff0000" stroke="#500000" stroke-width="0.4"/>
<path d="M107.76,299.50h3.2l-1.6,-2.7z" fill="#ff0000" stroke="#500000" stroke-width="0.4"/>
<path d="M149.19,310.30h3.2l-1.6,-2.7z" fill="#ff0000" stroke="#500000" stroke-width="0.4"/>
<path d="M190.61,310.30h3.2l-1.6,-2.7z" fill="#ff0000" stroke="#500000" stroke-width="0.4"/>
<path d="M232.04,317.90h3.2l-1.6,-2.7z" fill="#ff0000" stroke="#500000" stroke-width="0.4"/>
<path d="M273.47,311.00h3.2l-1.6,-2.7z" fill="#ff0000" stroke="#500000" stroke-width="0.4"/>
<path d="M314.90,324.50h3.2l-1.6,-2.7z" fill="#ff0000" stroke="#500000" stroke-width="0.4"/>
<circle cx="26.50" cy="334.20" r="1.35" fill="#0000ee" stroke="#000040" stroke-width="0.35"/>
<circle cx="67.93" cy="334.00" r="1.35" fill="#0000ee" stroke="#000040" stroke-width="0.35"/>
<circle cx="109.36" cy="330.40" r="1.35" fill="#0000ee" stroke="#000040" stroke-width="0.35"/>
<circle cx="150.79" cy="329.90" r="1.35" fill="#0000ee" stroke="#000040" stroke-width="0.35"/>
<circle cx="192.21" cy="330.80" r="1.35" fill="#0000ee" stroke="#000040" stroke-width="0.35"/>
<circle cx="233.64" cy="331.30" r="1.35" fill="#0000ee" stroke="#000040" stroke-width="0.35"/>
<circle cx="275.07" cy="334.20" r="1.35" fill="#0000ee" stroke="#000040" stroke-width="0.35"/>
<circle cx="316.50" cy="329.90" r="1.35" fill="#0000ee" stroke="#000040" stroke-width="0.35"/>
<path d="M24.90,327.20h3.2l-1.6,2.7z" fill="#0000ee" stroke="#000040" stroke-width="0.35"/>
<path d="M66.33,326.70h3.2l-1.6,2.7z" fill="#0000ee" stroke="#000040" stroke-width="0.35"/>
<path d="M107.76,293.50h3.2l-1.6,2.7z" fill="#0000ee" stroke="#000040" stroke-width="0.35"/>
<path d="M149.19,286.30h3.2l-1.6,2.7z" fill="#0000ee" stroke="#000040" stroke-width="0.35"/>
<path d="M190.61,305.80h3.2l-1.6,2.7z" fill="#0000ee" stroke="#000040" stroke-width="0.35"/>
<path d="M232.04,316.20h3.2l-1.6,2.7z" fill="#0000ee" stroke="#000040" stroke-width="0.35"/>
<path d="M273.47,327.20h3.2l-1.6,2.7z" fill="#0000ee" stroke="#000040" stroke-width="0.35"/>
<path d="M314.90,281.70h3.2l-1.6,2.7z" fill="#0000ee" stroke="#000040" stroke-width="0.35"/>
<circle cx="26.50" cy="338.00" r="1.35" fill="#0000ee" stroke="#000040" stroke-width="0.35"/>
<circle cx="67.93" cy="336.00" r="1.35" fill="#0000ee" stroke="#000040" stroke-width="0.35"/>
<circle cx="109.36" cy="332.50" r="1.35" fill="#0000ee" stroke="#000040" stroke-width="0.35"/>
<circle cx="150.79" cy="331.80" r="1.35" fill="#0000ee" stroke="#000040" stroke-width="0.35"/>
<circle cx="192.21" cy="332.70" r="1.35" fill="#0000ee" stroke="#000040" stroke-width="0.35"/>
<circle cx="233.64" cy="331.50" r="1.35" fill="#0000ee" stroke="#000040" stroke-width="0.35"/>
<circle cx="275.07" cy="334.40" r="1.35" fill="#0000ee" stroke="#000040" stroke-width="0.35"/>
<circle cx="316.50" cy="331.20" r="1.35" fill="#0000ee" stroke="#000040" stroke-width="0.35"/>
<path d="M24.90,330.20h3.2l-1.6,2.7z" fill="#0000ee" stroke="#000040" stroke-width="0.35"/>
<path d="M66.33,328.20h3.2l-1.6,2.7z" fill="#0000ee" stroke="#000040" stroke-width="0.35"/>
<path d="M107.76,321.90h3.2l-1.6,2.7z" fill="#0000ee" stroke="#000040" stroke-width="0.35"/>
<path d="M149.19,316.60h3.2l-1.6,2.7z" fill="#0000ee" stroke="#000040" stroke-width="0.35"/>
<path d="M190.61,327.20h3.2l-1.6,2.7z" fill="#0000ee" stroke="#000040" stroke-width="0.35"/>
<path d="M232.04,316.70h3.2l-1.6,2.7z" fill="#0000ee" stroke="#000040" stroke-width="0.35"/>
<path d="M273.47,329.50h3.2l-1.6,2.7z" fill="#0000ee" stroke="#000040" stroke-width="0.35"/>
<path d="M314.90,326.20h3.2l-1.6,2.7z" fill="#0000ee" stroke="#000040" stroke-width="0.35"/>
<line x1="372.0" y1="275.5" x2="662.5" y2="275.5" stroke="#5a5a5a" stroke-width="1.1"/>
<line x1="372.0" y1="340.5" x2="662.5" y2="340.5" stroke="#5a5a5a" stroke-width="1.1"/>
<line x1="413.50" y1="340.5" x2="413.50" y2="337.5" stroke="#3c3c3c" stroke-width="0.9"/>
<line x1="413.50" y1="275.5" x2="413.50" y2="278.5" stroke="#3c3c3c" stroke-width="0.9"/>
<line x1="455.00" y1="340.5" x2="455.00" y2="337.5" stroke="#3c3c3c" stroke-width="0.9"/>
<line x1="455.00" y1="275.5" x2="455.00" y2="278.5" stroke="#3c3c3c" stroke-width="0.9"/>
<line x1="496.50" y1="340.5" x2="496.50" y2="337.5" stroke="#3c3c3c" stroke-width="0.9"/>
<line x1="496.50" y1="275.5" x2="496.50" y2="278.5" stroke="#3c3c3c" stroke-width="0.9"/>
<line x1="538.00" y1="340.5" x2="538.00" y2="337.5" stroke="#3c3c3c" stroke-width="0.9"/>
<line x1="538.00" y1="275.5" x2="538.00" y2="278.5" stroke="#3c3c3c" stroke-width="0.9"/>
<line x1="579.50" y1="340.5" x2="579.50" y2="337.5" stroke="#3c3c3c" stroke-width="0.9"/>
<line x1="579.50" y1="275.5" x2="579.50" y2="278.5" stroke="#3c3c3c" stroke-width="0.9"/>
<line x1="621.00" y1="340.5" x2="621.00" y2="337.5" stroke="#3c3c3c" stroke-width="0.9"/>
<line x1="621.00" y1="275.5" x2="621.00" y2="278.5" stroke="#3c3c3c" stroke-width="0.9"/>
<line x1="372.0" y1="275.5" x2="372.0" y2="340.5" stroke="#3535f0" stroke-width="1"/>
<line x1="372.0" y1="340.50" x2="375.0" y2="340.50" stroke="#3535f0" stroke-width="1"/>
<text x="368.8" y="343.90" text-anchor="end" class="tl" fill="#1a1aff" stroke="#1a1aff">0.0</text>
<line x1="372.0" y1="327.50" x2="375.0" y2="327.50" stroke="#3535f0" stroke-width="1"/>
<text x="368.8" y="330.90" text-anchor="end" class="tl" fill="#1a1aff" stroke="#1a1aff">1.0</text>
<line x1="372.0" y1="314.50" x2="375.0" y2="314.50" stroke="#3535f0" stroke-width="1"/>
<text x="368.8" y="317.90" text-anchor="end" class="tl" fill="#1a1aff" stroke="#1a1aff">2.0</text>
<line x1="372.0" y1="301.50" x2="375.0" y2="301.50" stroke="#3535f0" stroke-width="1"/>
<text x="368.8" y="304.90" text-anchor="end" class="tl" fill="#1a1aff" stroke="#1a1aff">3.0</text>
<line x1="372.0" y1="288.50" x2="375.0" y2="288.50" stroke="#3535f0" stroke-width="1"/>
<text x="368.8" y="291.90" text-anchor="end" class="tl" fill="#1a1aff" stroke="#1a1aff">4.0</text>
<line x1="372.0" y1="275.50" x2="375.0" y2="275.50" stroke="#3535f0" stroke-width="1"/>
<text x="368.8" y="278.90" text-anchor="end" class="tl" fill="#1a1aff" stroke="#1a1aff">5.0</text>
<line x1="662.5" y1="275.5" x2="662.5" y2="340.5" stroke="#e83030" stroke-width="1"/>
<line x1="662.5" y1="340.50" x2="659.5" y2="340.50" stroke="#e83030" stroke-width="1"/>
<text x="666.1" y="343.90" class="tl" fill="#ee1111" stroke="#ee1111">0</text>
<line x1="662.5" y1="318.83" x2="659.5" y2="318.83" stroke="#e83030" stroke-width="1"/>
<text x="666.1" y="322.23" class="tl" fill="#ee1111" stroke="#ee1111">5</text>
<line x1="662.5" y1="297.17" x2="659.5" y2="297.17" stroke="#e83030" stroke-width="1"/>
<text x="666.1" y="300.57" class="tl" fill="#ee1111" stroke="#ee1111">10</text>
<line x1="662.5" y1="275.50" x2="659.5" y2="275.50" stroke="#e83030" stroke-width="1"/>
<text x="666.1" y="278.90" class="tl" fill="#ee1111" stroke="#ee1111">15</text>
<text x="372.00" y="352.30" text-anchor="middle" class="xl">CR</text>
<text x="413.50" y="352.30" text-anchor="middle" class="xl">FD</text>
<text x="455.00" y="352.30" text-anchor="middle" class="xl">SD</text>
<text x="496.50" y="352.30" text-anchor="middle" class="xl">L<tspan font-size="7" dx="0.4" dy="3.2">1</tspan></text>
<text x="538.00" y="352.30" text-anchor="middle" class="xl">L<tspan font-size="7" dx="0.4" dy="3.2">2</tspan></text>
<text x="579.50" y="352.30" text-anchor="middle" class="xl">L<tspan font-size="7" dx="0.4" dy="3.2">3</tspan></text>
<text x="621.00" y="352.30" text-anchor="middle" class="xl">L<tspan font-size="7" dx="0.4" dy="3.2">5</tspan></text>
<text x="662.50" y="352.30" text-anchor="middle" class="xl">L<tspan font-size="7" dx="0.4" dy="3.2">all</tspan></text>
<text x="648.25" y="285.70" text-anchor="middle" class="tag">(h)</text>
<polyline points="372.00,305.20 413.50,301.40 455.00,311.50 496.50,319.70 538.00,321.30 579.50,316.40 621.00,317.20 662.50,317.20" fill="none" stroke="#e03a3a" stroke-width="0.62"/>
<polyline points="372.00,317.50 413.50,313.40 455.00,315.60 496.50,326.70 538.00,325.10 579.50,323.00 621.00,323.20 662.50,328.40" fill="none" stroke="#e03a3a" stroke-width="0.62"/>
<polyline points="372.00,281.10 413.50,293.00 455.00,318.60 496.50,329.90 538.00,326.00 579.50,316.80 621.00,301.40 662.50,316.00" fill="none" stroke="#e03a3a" stroke-width="0.62" stroke-dasharray="4.3,2.2"/>
<polyline points="372.00,297.60 413.50,294.80 455.00,321.70 496.50,330.40 538.00,327.50 579.50,323.00 621.00,310.90 662.50,321.30" fill="none" stroke="#e03a3a" stroke-width="0.62" stroke-dasharray="4.3,2.2"/>
<polyline points="372.00,329.50 413.50,330.40 455.00,328.50 496.50,328.30 538.00,328.80 579.50,328.30 621.00,328.50 662.50,328.40" fill="none" stroke="#3d3df2" stroke-width="0.62"/>
<polyline points="372.00,312.80 413.50,320.40 455.00,314.60 496.50,303.80 538.00,296.70 579.50,310.00 621.00,292.90 662.50,311.80" fill="none" stroke="#3d3df2" stroke-width="0.62"/>
<polyline points="372.00,336.10 413.50,332.30 455.00,328.80 496.50,328.60 538.00,329.30 579.50,328.60 621.00,328.80 662.50,328.60" fill="none" stroke="#3d3df2" stroke-width="0.62" stroke-dasharray="4.3,2.2"/>
<polyline points="372.00,336.50 413.50,332.30 455.00,320.50 496.50,290.80 538.00,301.40 579.50,310.00 621.00,314.10 662.50,319.00" fill="none" stroke="#3d3df2" stroke-width="0.62" stroke-dasharray="4.3,2.2"/>
<rect x="370.75" y="303.95" width="2.5" height="2.5" fill="#ff0000" stroke="#500000" stroke-width="0.45"/>
<rect x="412.25" y="300.15" width="2.5" height="2.5" fill="#ff0000" stroke="#500000" stroke-width="0.45"/>
<rect x="453.75" y="310.25" width="2.5" height="2.5" fill="#ff0000" stroke="#500000" stroke-width="0.45"/>
<rect x="495.25" y="318.45" width="2.5" height="2.5" fill="#ff0000" stroke="#500000" stroke-width="0.45"/>
<rect x="536.75" y="320.05" width="2.5" height="2.5" fill="#ff0000" stroke="#500000" stroke-width="0.45"/>
<rect x="578.25" y="315.15" width="2.5" height="2.5" fill="#ff0000" stroke="#500000" stroke-width="0.45"/>
<rect x="619.75" y="315.95" width="2.5" height="2.5" fill="#ff0000" stroke="#500000" stroke-width="0.45"/>
<rect x="661.25" y="315.95" width="2.5" height="2.5" fill="#ff0000" stroke="#500000" stroke-width="0.45"/>
<path d="M370.40,318.80h3.2l-1.6,-2.7z" fill="#ff0000" stroke="#500000" stroke-width="0.4"/>
<path d="M411.90,314.70h3.2l-1.6,-2.7z" fill="#ff0000" stroke="#500000" stroke-width="0.4"/>
<path d="M453.40,316.90h3.2l-1.6,-2.7z" fill="#ff0000" stroke="#500000" stroke-width="0.4"/>
<path d="M494.90,328.00h3.2l-1.6,-2.7z" fill="#ff0000" stroke="#500000" stroke-width="0.4"/>
<path d="M536.40,326.40h3.2l-1.6,-2.7z" fill="#ff0000" stroke="#500000" stroke-width="0.4"/>
<path d="M577.90,324.30h3.2l-1.6,-2.7z" fill="#ff0000" stroke="#500000" stroke-width="0.4"/>
<path d="M619.40,324.50h3.2l-1.6,-2.7z" fill="#ff0000" stroke="#500000" stroke-width="0.4"/>
<path d="M660.90,329.70h3.2l-1.6,-2.7z" fill="#ff0000" stroke="#500000" stroke-width="0.4"/>
<rect x="370.75" y="279.85" width="2.5" height="2.5" fill="#ff0000" stroke="#500000" stroke-width="0.45"/>
<rect x="412.25" y="291.75" width="2.5" height="2.5" fill="#ff0000" stroke="#500000" stroke-width="0.45"/>
<rect x="453.75" y="317.35" width="2.5" height="2.5" fill="#ff0000" stroke="#500000" stroke-width="0.45"/>
<rect x="495.25" y="328.65" width="2.5" height="2.5" fill="#ff0000" stroke="#500000" stroke-width="0.45"/>
<rect x="536.75" y="324.75" width="2.5" height="2.5" fill="#ff0000" stroke="#500000" stroke-width="0.45"/>
<rect x="578.25" y="315.55" width="2.5" height="2.5" fill="#ff0000" stroke="#500000" stroke-width="0.45"/>
<rect x="619.75" y="300.15" width="2.5" height="2.5" fill="#ff0000" stroke="#500000" stroke-width="0.45"/>
<rect x="661.25" y="314.75" width="2.5" height="2.5" fill="#ff0000" stroke="#500000" stroke-width="0.45"/>
<path d="M370.40,298.90h3.2l-1.6,-2.7z" fill="#ff0000" stroke="#500000" stroke-width="0.4"/>
<path d="M411.90,296.10h3.2l-1.6,-2.7z" fill="#ff0000" stroke="#500000" stroke-width="0.4"/>
<path d="M453.40,323.00h3.2l-1.6,-2.7z" fill="#ff0000" stroke="#500000" stroke-width="0.4"/>
<path d="M494.90,331.70h3.2l-1.6,-2.7z" fill="#ff0000" stroke="#500000" stroke-width="0.4"/>
<path d="M536.40,328.80h3.2l-1.6,-2.7z" fill="#ff0000" stroke="#500000" stroke-width="0.4"/>
<path d="M577.90,324.30h3.2l-1.6,-2.7z" fill="#ff0000" stroke="#500000" stroke-width="0.4"/>
<path d="M619.40,312.20h3.2l-1.6,-2.7z" fill="#ff0000" stroke="#500000" stroke-width="0.4"/>
<path d="M660.90,322.60h3.2l-1.6,-2.7z" fill="#ff0000" stroke="#500000" stroke-width="0.4"/>
<circle cx="372.00" cy="329.50" r="1.35" fill="#0000ee" stroke="#000040" stroke-width="0.35"/>
<circle cx="413.50" cy="330.40" r="1.35" fill="#0000ee" stroke="#000040" stroke-width="0.35"/>
<circle cx="455.00" cy="328.50" r="1.35" fill="#0000ee" stroke="#000040" stroke-width="0.35"/>
<circle cx="496.50" cy="328.30" r="1.35" fill="#0000ee" stroke="#000040" stroke-width="0.35"/>
<circle cx="538.00" cy="328.80" r="1.35" fill="#0000ee" stroke="#000040" stroke-width="0.35"/>
<circle cx="579.50" cy="328.30" r="1.35" fill="#0000ee" stroke="#000040" stroke-width="0.35"/>
<circle cx="621.00" cy="328.50" r="1.35" fill="#0000ee" stroke="#000040" stroke-width="0.35"/>
<circle cx="662.50" cy="328.40" r="1.35" fill="#0000ee" stroke="#000040" stroke-width="0.35"/>
<path d="M370.40,311.50h3.2l-1.6,2.7z" fill="#0000ee" stroke="#000040" stroke-width="0.35"/>
<path d="M411.90,319.10h3.2l-1.6,2.7z" fill="#0000ee" stroke="#000040" stroke-width="0.35"/>
<path d="M453.40,313.30h3.2l-1.6,2.7z" fill="#0000ee" stroke="#000040" stroke-width="0.35"/>
<path d="M494.90,302.50h3.2l-1.6,2.7z" fill="#0000ee" stroke="#000040" stroke-width="0.35"/>
<path d="M536.40,295.40h3.2l-1.6,2.7z" fill="#0000ee" stroke="#000040" stroke-width="0.35"/>
<path d="M577.90,308.70h3.2l-1.6,2.7z" fill="#0000ee" stroke="#000040" stroke-width="0.35"/>
<path d="M619.40,291.60h3.2l-1.6,2.7z" fill="#0000ee" stroke="#000040" stroke-width="0.35"/>
<path d="M660.90,310.50h3.2l-1.6,2.7z" fill="#0000ee" stroke="#000040" stroke-width="0.35"/>
<circle cx="372.00" cy="336.10" r="1.35" fill="#0000ee" stroke="#000040" stroke-width="0.35"/>
<circle cx="413.50" cy="332.30" r="1.35" fill="#0000ee" stroke="#000040" stroke-width="0.35"/>
<circle cx="455.00" cy="328.80" r="1.35" fill="#0000ee" stroke="#000040" stroke-width="0.35"/>
<circle cx="496.50" cy="328.60" r="1.35" fill="#0000ee" stroke="#000040" stroke-width="0.35"/>
<circle cx="538.00" cy="329.30" r="1.35" fill="#0000ee" stroke="#000040" stroke-width="0.35"/>
<circle cx="579.50" cy="328.60" r="1.35" fill="#0000ee" stroke="#000040" stroke-width="0.35"/>
<circle cx="621.00" cy="328.80" r="1.35" fill="#0000ee" stroke="#000040" stroke-width="0.35"/>
<circle cx="662.50" cy="328.60" r="1.35" fill="#0000ee" stroke="#000040" stroke-width="0.35"/>
<path d="M370.40,335.20h3.2l-1.6,2.7z" fill="#0000ee" stroke="#000040" stroke-width="0.35"/>
<path d="M411.90,331.00h3.2l-1.6,2.7z" fill="#0000ee" stroke="#000040" stroke-width="0.35"/>
<path d="M453.40,319.20h3.2l-1.6,2.7z" fill="#0000ee" stroke="#000040" stroke-width="0.35"/>
<path d="M494.90,289.50h3.2l-1.6,2.7z" fill="#0000ee" stroke="#000040" stroke-width="0.35"/>
<path d="M536.40,300.10h3.2l-1.6,2.7z" fill="#0000ee" stroke="#000040" stroke-width="0.35"/>
<path d="M577.90,308.70h3.2l-1.6,2.7z" fill="#0000ee" stroke="#000040" stroke-width="0.35"/>
<path d="M619.40,312.80h3.2l-1.6,2.7z" fill="#0000ee" stroke="#000040" stroke-width="0.35"/>
<path d="M660.90,317.70h3.2l-1.6,2.7z" fill="#0000ee" stroke="#000040" stroke-width="0.35"/>
<line x1="159.0" y1="7.5" x2="178.5" y2="7.5" stroke="#3d3df2" stroke-width="0.75"/>
<circle cx="169.05" cy="7.50" r="1.35" fill="#0000ee" stroke="#000040" stroke-width="0.35"/>
<text x="180.7" y="10.0" class="lg">R<tspan font-size="6.5" dy="-4.2">2</tspan><tspan font-size="6.5" dx="-3.3" dy="8.2">c</tspan></text>
<line x1="195.3" y1="7.5" x2="215.0" y2="7.5" stroke="#3d3df2" stroke-width="0.75"/>
<path d="M203.85,6.20h3.2l-1.6,2.7z" fill="#0000ee" stroke="#000040" stroke-width="0.35"/>
<text x="217.4" y="9.2" class="lg">RPD<tspan font-size="7" dx="0.4" dy="3.4">c</tspan></text>
<line x1="242.9" y1="7.5" x2="263.4" y2="7.5" stroke="#3d3df2" stroke-width="0.75" stroke-dasharray="4.3,2.2"/>
<circle cx="253.45" cy="7.50" r="1.35" fill="#0000ee" stroke="#000040" stroke-width="0.35"/>
<text x="265.5" y="10.0" class="lg">R<tspan font-size="6.5" dy="-4.2">2</tspan><tspan font-size="6.5" dx="-3.3" dy="8.2">v</tspan></text>
<line x1="279.4" y1="7.5" x2="299.9" y2="7.5" stroke="#3d3df2" stroke-width="0.75" stroke-dasharray="4.3,2.2"/>
<path d="M288.35,6.20h3.2l-1.6,2.7z" fill="#0000ee" stroke="#000040" stroke-width="0.35"/>
<text x="302.0" y="9.2" class="lg">RPD<tspan font-size="7" dx="0.4" dy="3.4">v</tspan></text>
<line x1="328.0" y1="7.5" x2="348.5" y2="7.5" stroke="#e03a3a" stroke-width="0.75"/>
<rect x="337.30" y="6.25" width="2.5" height="2.5" fill="#ff0000" stroke="#500000" stroke-width="0.45"/>
<text x="350.7" y="9.2" class="lg">RMSE<tspan font-size="7" dx="0.4" dy="3.4">c</tspan></text>
<line x1="383.8" y1="7.5" x2="404.0" y2="7.5" stroke="#e03a3a" stroke-width="0.75"/>
<path d="M392.60,8.80h3.2l-1.6,-2.7z" fill="#ff0000" stroke="#500000" stroke-width="0.4"/>
<text x="406.1" y="9.2" class="lg">MAE<tspan font-size="7" dx="0.4" dy="3.4">c</tspan></text>
<line x1="434.3" y1="7.5" x2="454.0" y2="7.5" stroke="#e03a3a" stroke-width="0.75" stroke-dasharray="4.3,2.2"/>
<rect x="443.20" y="6.25" width="2.5" height="2.5" fill="#ff0000" stroke="#500000" stroke-width="0.45"/>
<text x="456.2" y="9.2" class="lg">RMSE<tspan font-size="7" dx="0.4" dy="3.4">v</tspan></text>
<line x1="489.9" y1="7.5" x2="510.7" y2="7.5" stroke="#e03a3a" stroke-width="0.75" stroke-dasharray="4.3,2.2"/>
<path d="M499.00,8.80h3.2l-1.6,-2.7z" fill="#ff0000" stroke="#500000" stroke-width="0.4"/>
<text x="512.4" y="9.2" class="lg">MAE<tspan font-size="7" dx="0.4" dy="3.4">v</tspan></text>
<text x="160.2" y="18.7" class="ttl">PLSR</text>
<text x="511.4" y="18.7" class="ttl">RF</text>
<text transform="translate(8.2,181) rotate(-90)" text-anchor="middle" class="at" style="fill:#1a1aff;stroke:#1a1aff">R<tspan font-size="5.5" dy="-3">2</tspan><tspan dy="3">/RPD</tspan></text>
<text transform="translate(683.2,177.5) rotate(-90)" text-anchor="middle" class="at" style="fill:#ee1111;stroke:#ee1111">RMSE/MAE</text>
<text x="171.3" y="365.9" text-anchor="middle" class="at ppm">Pre-processing Methods</text>
<text x="517.3" y="365.9" text-anchor="middle" class="at ppm">Pre-processing Methods</text>
</svg>
</body></html>
